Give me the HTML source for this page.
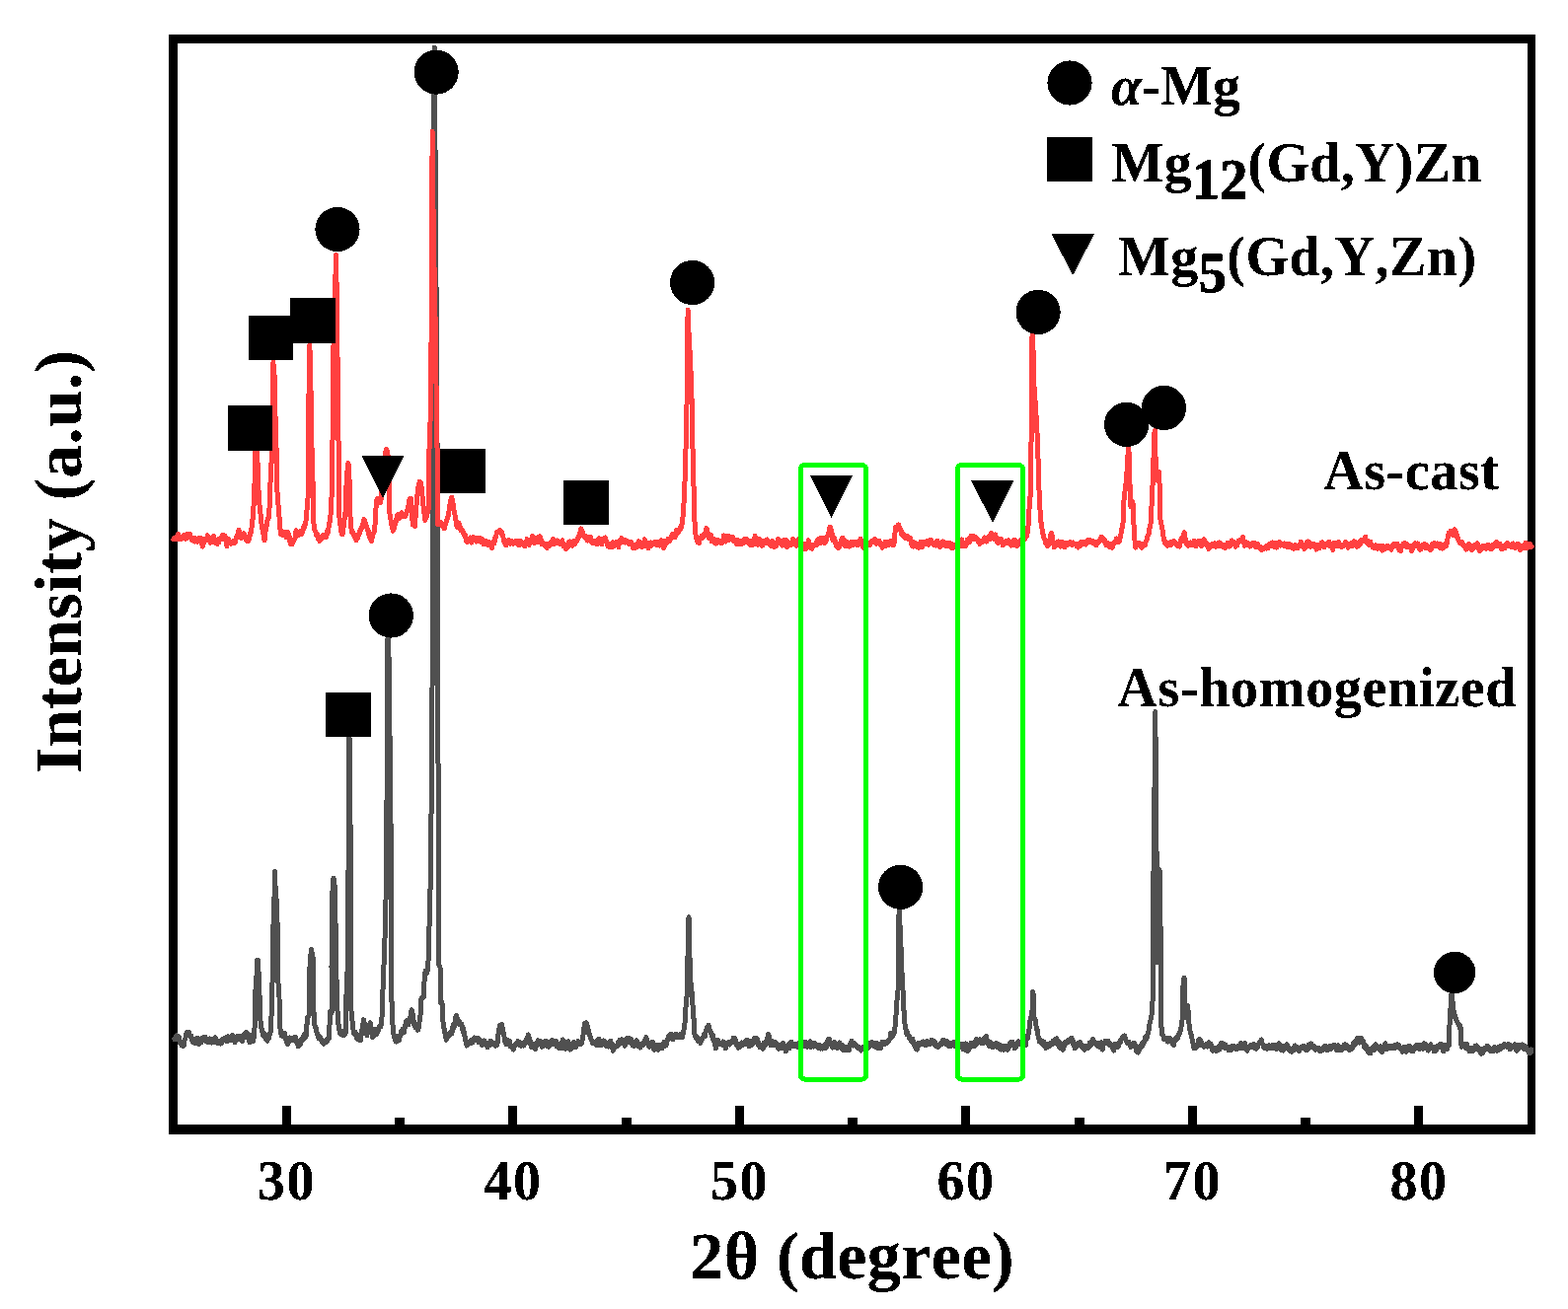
<!DOCTYPE html>
<html lang="en"><head><meta charset="utf-8"><title>XRD patterns</title>
<style>html,body{margin:0;padding:0;background:#fff}body{width:1589px;height:1327px;overflow:hidden}svg{display:block}text{font-family:"Liberation Serif","DejaVu Serif",serif;font-weight:bold;fill:#000;font-kerning:none;font-variant-ligatures:none}</style>
</head><body>
<svg width="1589" height="1327" viewBox="0 0 1589 1327" shape-rendering="crispEdges">
<rect width="1589" height="1327" fill="#fff"/>
<g fill="#000">
<rect x="171" y="35" width="1385" height="9"/>
<rect x="171" y="1140" width="1385" height="10"/>
<rect x="171" y="35" width="9" height="1115"/>
<rect x="1548" y="35" width="8" height="1115"/>
<rect x="286" y="1121" width="9" height="20"/>
<rect x="515" y="1121" width="9" height="20"/>
<rect x="745" y="1121" width="9" height="20"/>
<rect x="974" y="1121" width="9" height="20"/>
<rect x="1204" y="1121" width="9" height="20"/>
<rect x="1433" y="1121" width="9" height="20"/>
<rect x="400" y="1133" width="10" height="8"/>
<rect x="630" y="1133" width="10" height="8"/>
<rect x="859" y="1133" width="10" height="8"/>
<rect x="1089" y="1133" width="10" height="8"/>
<rect x="1318" y="1133" width="10" height="8"/>
</g>
<path d="M176.6 1053.1 L177.1 1053.7 L177.7 1052.3 L178.2 1053.7 L178.7 1049.8 L179.2 1051.0 L179.8 1050.1 L180.3 1050.5 L180.8 1052.3 L181.3 1051.2 L181.8 1054.9 L182.3 1057.4 L182.8 1056.2 L183.3 1056.3 L183.8 1059.5 L184.4 1057.9 L184.9 1056.9 L185.4 1060.7 L185.9 1058.5 L186.5 1059.1 L187.0 1054.8 L187.5 1053.1 L187.9 1053.0 L188.4 1049.9 L188.9 1048.0 L189.4 1046.7 L189.8 1048.4 L190.3 1048.1 L190.8 1049.2 L191.2 1049.5 L191.7 1046.7 L192.2 1049.8 L192.7 1049.4 L193.1 1050.7 L193.6 1049.9 L194.1 1051.5 L194.5 1054.9 L195.0 1054.2 L195.5 1056.4 L196.0 1053.1 L196.4 1055.0 L196.9 1056.6 L197.4 1057.5 L197.8 1053.9 L198.3 1054.9 L198.8 1052.9 L199.3 1056.4 L199.8 1056.5 L200.3 1054.4 L200.7 1052.6 L201.2 1056.4 L201.7 1058.7 L202.2 1055.1 L202.6 1057.6 L203.1 1056.5 L203.5 1057.1 L204.0 1055.8 L204.5 1052.8 L204.9 1054.9 L205.4 1052.0 L205.9 1052.6 L206.3 1054.3 L206.8 1054.1 L207.3 1051.2 L207.8 1051.2 L208.2 1052.6 L208.7 1054.6 L209.2 1055.8 L209.6 1055.1 L210.1 1053.9 L210.6 1054.4 L211.1 1056.5 L211.5 1054.6 L212.1 1057.0 L212.6 1052.9 L213.1 1055.1 L213.6 1056.2 L214.1 1053.2 L214.6 1057.0 L215.1 1053.9 L215.7 1056.2 L216.2 1056.1 L216.7 1056.3 L217.2 1054.6 L217.7 1052.4 L218.2 1051.7 L218.8 1052.8 L219.3 1054.0 L219.8 1056.8 L220.3 1057.8 L220.9 1057.8 L221.4 1055.8 L221.9 1055.4 L222.4 1057.8 L222.9 1057.1 L223.3 1055.9 L223.8 1058.1 L224.3 1058.0 L224.8 1056.2 L225.2 1054.5 L225.7 1053.1 L226.2 1055.3 L226.7 1053.2 L227.3 1052.7 L227.8 1053.5 L228.3 1052.0 L228.8 1053.9 L229.4 1054.5 L229.9 1052.8 L230.4 1055.9 L230.9 1054.2 L231.4 1050.8 L231.8 1052.9 L232.3 1053.8 L232.8 1053.2 L233.2 1051.9 L233.7 1054.4 L234.2 1053.1 L234.7 1051.8 L235.1 1053.7 L235.6 1049.5 L236.1 1053.2 L236.6 1054.3 L237.0 1053.6 L237.5 1054.4 L238.0 1056.8 L238.4 1052.2 L238.9 1055.5 L239.4 1053.1 L239.9 1054.6 L240.3 1053.9 L240.8 1050.1 L241.3 1052.3 L241.7 1053.1 L242.2 1053.4 L242.7 1050.3 L243.2 1052.3 L243.6 1053.9 L244.1 1051.1 L244.6 1054.2 L245.0 1051.3 L245.5 1055.9 L246.0 1053.0 L246.6 1049.2 L247.1 1049.9 L247.6 1051.3 L248.1 1047.8 L248.7 1047.6 L249.2 1048.0 L249.7 1046.3 L250.2 1049.1 L250.7 1047.9 L251.2 1049.7 L251.7 1051.2 L252.1 1054.4 L252.6 1055.4 L253.1 1056.8 L253.7 1055.0 L254.2 1053.2 L254.7 1049.5 L255.2 1053.4 L255.7 1051.7 L256.2 1054.8 L256.7 1055.5 L257.2 1051.8 L257.6 1046.1 L258.1 1040.7 L258.5 1032.9 L258.9 1004.5 L259.5 996.1 L260.1 988.6 L260.5 973.1 L261.2 973.1 L261.6 978.5 L262.0 985.4 L262.4 991.8 L263.0 1008.3 L263.5 1028.2 L264.0 1034.7 L264.5 1040.2 L265.0 1042.5 L265.6 1044.5 L266.1 1047.8 L266.7 1050.2 L267.2 1047.1 L267.8 1049.8 L268.3 1049.1 L268.8 1049.7 L269.3 1053.1 L269.9 1053.2 L270.4 1052.4 L270.9 1055.3 L271.4 1051.0 L271.9 1051.3 L272.4 1052.6 L272.9 1048.1 L273.3 1047.7 L273.8 1047.7 L274.3 1044.7 L275.1 1028.2 L275.9 1004.5 L276.7 945.9 L277.1 934.2 L277.5 923.6 L277.9 914.3 L278.6 883.4 L279.0 898.5 L279.6 903.8 L280.1 912.7 L280.6 923.4 L281.1 938.0 L281.7 995.0 L282.2 998.5 L282.6 1003.9 L283.0 1010.8 L283.3 1040.2 L283.8 1042.3 L284.3 1044.5 L284.7 1047.2 L285.2 1050.0 L285.7 1050.2 L286.2 1048.4 L286.7 1048.0 L287.2 1049.8 L287.8 1047.3 L288.3 1047.5 L288.8 1049.4 L289.3 1050.8 L289.9 1054.4 L290.4 1056.3 L290.9 1055.9 L291.4 1058.4 L291.9 1057.5 L292.4 1054.9 L292.9 1055.8 L293.4 1054.3 L293.9 1052.0 L294.4 1054.7 L294.9 1052.1 L295.4 1052.4 L295.9 1052.9 L296.4 1055.0 L296.9 1054.9 L297.4 1054.9 L297.9 1053.5 L298.4 1051.3 L298.9 1051.6 L299.4 1051.5 L299.8 1055.3 L300.3 1055.9 L300.8 1055.9 L301.3 1058.1 L301.8 1058.1 L302.3 1060.8 L302.8 1055.3 L303.3 1059.2 L303.8 1056.6 L304.4 1059.0 L304.9 1054.6 L305.4 1056.2 L305.9 1055.1 L306.5 1053.2 L307.0 1051.3 L307.5 1053.4 L308.0 1052.4 L308.5 1048.7 L308.9 1050.7 L309.4 1052.1 L309.9 1048.0 L310.4 1050.2 L310.9 1039.9 L311.5 1032.9 L311.9 1031.1 L312.4 1030.3 L312.9 1030.0 L313.4 1028.2 L313.8 982.3 L314.4 977.0 L314.9 968.8 L315.4 962.5 L315.9 965.1 L316.5 967.9 L317.0 970.2 L317.5 972.8 L317.8 1021.9 L318.6 1037.7 L319.1 1039.8 L319.5 1041.1 L320.0 1042.6 L320.5 1042.7 L321.0 1046.5 L321.5 1047.4 L321.9 1048.8 L322.4 1049.4 L322.9 1052.5 L323.4 1052.3 L323.9 1052.3 L324.4 1052.8 L324.9 1051.8 L325.4 1054.5 L325.9 1053.8 L326.4 1055.2 L326.9 1057.2 L327.4 1057.2 L327.9 1058.2 L328.4 1057.9 L328.9 1055.0 L329.4 1055.8 L329.9 1056.5 L330.5 1055.5 L331.0 1056.4 L331.5 1054.5 L332.0 1052.7 L332.6 1053.5 L333.1 1053.3 L333.6 1050.1 L334.4 1028.2 L334.9 1025.0 L335.5 1028.0 L336.0 1026.6 L336.0 980.7 L336.8 906.4 L337.2 899.7 L337.6 894.7 L338.0 890.2 L338.6 893.0 L339.2 898.5 L339.7 922.8 L340.3 949.1 L340.7 975.2 L341.2 1002.9 L341.8 1017.1 L342.3 1036.1 L342.8 1037.7 L343.3 1039.4 L343.7 1043.3 L344.2 1044.6 L344.7 1048.3 L345.2 1045.0 L345.7 1047.6 L346.2 1046.7 L346.7 1047.5 L347.2 1047.9 L347.7 1049.8 L348.2 1047.8 L348.7 1045.6 L349.2 1049.4 L349.6 1048.4 L350.1 1047.5 L350.6 1042.8 L351.1 1001.3 L351.6 991.6 L352.2 982.3 L352.7 927.6 L353.1 870.0 L353.3 749.0 L353.8 752.7 L354.2 749.0 L354.8 810.9 L355.3 870.0 L355.3 1017.9 L355.8 1022.5 L356.2 1026.8 L356.6 1028.2 L357.4 1041.0 L357.9 1043.4 L358.5 1047.0 L359.0 1048.3 L359.5 1046.3 L360.0 1046.3 L360.6 1047.2 L361.1 1051.5 L361.6 1049.8 L362.1 1053.4 L362.7 1050.0 L363.2 1049.8 L363.7 1050.0 L364.3 1053.1 L364.8 1053.0 L365.3 1055.0 L365.8 1050.8 L366.4 1047.5 L366.9 1044.6 L367.4 1039.5 L367.9 1037.5 L368.5 1033.7 L368.9 1035.9 L369.4 1039.0 L369.9 1041.1 L370.4 1043.3 L370.8 1042.8 L371.4 1044.9 L371.9 1049.6 L372.4 1046.5 L373.0 1046.3 L373.5 1044.1 L374.0 1040.0 L374.6 1038.2 L375.1 1036.9 L375.6 1039.3 L376.1 1042.1 L376.7 1046.9 L377.2 1048.3 L377.7 1051.6 L378.2 1050.6 L378.8 1049.8 L379.3 1047.3 L379.8 1044.2 L380.3 1043.5 L380.9 1044.6 L381.4 1048.6 L381.9 1047.3 L382.4 1046.3 L382.9 1045.5 L383.3 1044.7 L383.8 1042.8 L384.3 1041.0 L384.8 1041.6 L385.2 1040.4 L385.7 1041.1 L386.2 1038.6 L386.7 1036.1 L387.5 1021.9 L388.2 996.6 L388.8 983.3 L389.3 971.2 L389.8 957.0 L390.6 936.4 L391.2 902.1 L391.7 870.0 L392.3 759.7 L392.9 648.0 L393.4 650.6 L393.8 648.0 L394.3 691.5 L394.9 736.3 L395.4 780.6 L395.9 826.3 L396.5 870.0 L396.5 1012.4 L396.9 1015.4 L397.4 1017.1 L397.7 1034.5 L398.3 1043.4 L398.8 1048.2 L399.4 1051.3 L399.9 1051.6 L400.4 1054.0 L400.9 1053.3 L401.4 1056.1 L401.9 1055.7 L402.4 1051.8 L402.9 1050.2 L403.4 1051.1 L403.9 1053.6 L404.4 1054.6 L404.9 1049.7 L405.4 1050.3 L405.9 1048.8 L406.4 1045.5 L407.0 1047.8 L407.5 1044.1 L408.0 1044.5 L408.5 1042.9 L409.1 1045.1 L409.6 1046.4 L410.1 1042.3 L410.6 1041.5 L411.0 1037.9 L411.5 1035.5 L412.0 1035.3 L412.5 1034.2 L412.9 1034.9 L413.4 1034.7 L413.9 1038.6 L414.4 1036.1 L414.9 1034.1 L415.4 1033.1 L416.0 1030.3 L416.5 1027.5 L417.0 1023.8 L417.6 1026.0 L418.1 1027.6 L418.6 1031.1 L419.1 1034.5 L419.6 1036.3 L420.0 1040.1 L420.5 1037.5 L421.0 1041.9 L421.5 1037.7 L421.9 1039.6 L422.4 1040.9 L422.9 1041.9 L423.4 1044.2 L423.8 1043.7 L424.3 1040.8 L424.8 1037.1 L425.3 1034.9 L425.7 1030.2 L426.2 1028.2 L427.0 1012.4 L427.5 1012.2 L428.0 1011.5 L428.4 1011.4 L428.9 1010.2 L429.4 1010.8 L430.2 990.2 L430.6 986.7 L431.1 984.4 L431.6 984.5 L432.1 984.8 L432.5 986.3 L433.1 984.1 L433.6 979.2 L434.1 972.8 L434.9 942.8 L435.7 915.9 L436.2 893.8 L436.7 870.0 L437.1 812.8 L437.6 757.1 L438.0 700.0 L438.6 580.0 L439.4 300.0 L439.9 110.0 L440.3 48.0 L440.7 100.0 L441.3 200.0 L441.8 267.9 L442.4 334.6 L442.9 400.0 L443.3 580.0 L443.7 700.0 L444.4 870.0 L444.4 977.6 L444.9 978.6 L445.5 979.9 L446.0 980.7 L446.8 1017.1 L447.3 1017.8 L447.8 1016.1 L448.4 1020.3 L449.2 1040.9 L449.7 1041.2 L450.2 1043.3 L450.7 1046.4 L451.3 1048.5 L451.8 1051.4 L452.3 1054.2 L452.8 1050.9 L453.4 1051.0 L453.9 1051.5 L454.4 1051.0 L455.0 1050.5 L455.5 1047.5 L456.0 1046.9 L456.5 1046.0 L457.1 1048.2 L457.6 1048.2 L458.1 1045.9 L458.6 1041.3 L459.2 1043.3 L459.7 1037.7 L460.2 1040.9 L460.8 1037.5 L461.3 1036.5 L461.8 1031.4 L462.6 1029.5 L463.1 1031.8 L463.5 1032.8 L464.0 1033.8 L464.5 1035.0 L465.0 1037.7 L465.5 1038.2 L466.0 1036.4 L466.6 1037.4 L467.1 1038.7 L467.6 1037.9 L468.1 1039.3 L468.7 1042.2 L469.2 1045.8 L469.7 1042.7 L470.2 1046.6 L470.7 1048.5 L471.1 1051.1 L471.6 1053.8 L472.1 1056.6 L472.6 1057.1 L473.0 1060.1 L473.5 1058.7 L474.0 1059.4 L474.5 1056.7 L475.0 1058.3 L475.5 1056.1 L476.0 1056.6 L476.6 1057.2 L477.1 1055.6 L477.6 1054.6 L478.2 1056.6 L478.7 1057.0 L479.2 1055.0 L479.6 1054.1 L480.2 1053.0 L480.7 1051.9 L481.2 1053.6 L481.7 1054.0 L482.2 1054.9 L482.7 1054.9 L483.3 1054.0 L483.8 1055.1 L484.3 1052.5 L484.8 1053.8 L485.3 1057.0 L485.8 1055.0 L486.3 1054.4 L486.8 1055.4 L487.3 1055.4 L487.8 1057.9 L488.3 1059.5 L488.8 1059.1 L489.3 1057.0 L489.8 1057.0 L490.3 1057.5 L490.8 1054.9 L491.4 1057.6 L491.9 1058.9 L492.4 1057.8 L492.9 1058.3 L493.4 1059.3 L493.9 1061.9 L494.4 1057.6 L494.9 1059.4 L495.4 1057.3 L495.9 1059.7 L496.4 1059.9 L496.9 1057.5 L497.4 1055.1 L497.9 1056.9 L498.4 1057.0 L498.9 1058.2 L499.4 1057.6 L499.9 1058.3 L500.4 1057.5 L500.9 1059.2 L501.4 1057.8 L501.8 1057.5 L502.3 1060.3 L502.8 1057.4 L503.2 1059.8 L503.7 1058.1 L504.2 1056.9 L504.7 1053.1 L505.1 1047.2 L505.6 1045.0 L506.1 1041.3 L506.6 1039.8 L507.0 1039.3 L507.5 1040.5 L508.0 1040.5 L508.4 1038.2 L508.9 1041.3 L509.4 1042.6 L509.9 1045.1 L510.3 1048.2 L510.8 1049.9 L511.3 1052.3 L511.7 1056.0 L512.2 1055.0 L512.7 1057.9 L513.2 1058.9 L513.6 1056.2 L514.1 1054.1 L514.6 1054.1 L515.0 1056.3 L515.5 1055.3 L516.0 1055.4 L516.5 1055.9 L516.9 1059.7 L517.4 1060.9 L517.9 1061.3 L518.4 1060.1 L518.9 1061.8 L519.4 1062.3 L519.9 1060.8 L520.4 1064.1 L521.0 1060.5 L521.5 1060.5 L522.0 1060.0 L522.5 1058.9 L523.1 1057.6 L523.5 1057.5 L524.0 1056.8 L524.5 1057.8 L525.0 1055.5 L525.4 1058.1 L525.9 1056.0 L526.4 1056.4 L526.8 1059.7 L527.3 1058.2 L527.8 1060.2 L528.3 1059.5 L528.8 1059.1 L529.4 1059.9 L529.9 1059.0 L530.4 1057.7 L530.9 1060.1 L531.5 1057.4 L532.0 1056.5 L532.5 1057.7 L533.0 1055.7 L533.5 1054.7 L533.9 1053.2 L534.4 1052.2 L534.9 1050.7 L535.3 1048.9 L535.8 1050.0 L536.3 1053.1 L536.8 1054.9 L537.2 1055.0 L537.7 1058.6 L538.2 1057.7 L538.7 1061.9 L539.2 1061.0 L539.7 1057.9 L540.2 1061.4 L540.7 1061.0 L541.3 1058.7 L541.8 1059.0 L542.3 1063.4 L542.8 1062.3 L543.3 1060.7 L543.8 1058.5 L544.4 1057.2 L544.9 1055.7 L545.4 1054.8 L545.9 1057.6 L546.5 1056.0 L547.0 1055.5 L547.5 1059.3 L548.0 1059.3 L548.6 1056.0 L549.0 1058.0 L549.5 1061.3 L550.0 1060.1 L550.4 1060.9 L550.9 1060.4 L551.4 1057.3 L551.9 1059.7 L552.3 1058.4 L552.8 1057.7 L553.3 1055.1 L553.8 1057.7 L554.2 1057.5 L554.7 1058.9 L555.2 1061.1 L555.7 1058.9 L556.2 1061.3 L556.7 1060.2 L557.2 1058.0 L557.7 1056.8 L558.3 1055.4 L558.8 1056.4 L559.3 1054.6 L559.8 1056.5 L560.3 1055.2 L560.8 1058.6 L561.3 1056.0 L561.9 1055.7 L562.4 1055.6 L562.9 1058.1 L563.4 1055.6 L563.9 1060.5 L564.4 1059.8 L564.9 1060.5 L565.5 1061.2 L566.0 1062.2 L566.5 1058.6 L567.0 1060.3 L567.4 1060.4 L567.9 1062.7 L568.4 1057.8 L568.9 1058.6 L569.3 1056.9 L569.9 1055.8 L570.4 1053.9 L570.9 1058.1 L571.4 1060.0 L571.9 1062.6 L572.5 1060.3 L573.0 1063.4 L573.5 1061.7 L574.0 1060.8 L574.6 1060.2 L575.1 1060.7 L575.6 1055.7 L576.1 1059.5 L576.6 1060.4 L577.1 1060.5 L577.7 1064.0 L578.2 1061.8 L578.7 1062.2 L579.2 1062.4 L579.7 1058.7 L580.2 1061.1 L580.7 1057.0 L581.3 1056.4 L581.8 1056.9 L582.3 1058.8 L582.8 1061.4 L583.3 1060.4 L583.8 1061.5 L584.3 1058.4 L584.9 1057.6 L585.4 1057.5 L585.9 1055.6 L586.4 1056.4 L586.9 1058.3 L587.5 1057.3 L588.0 1058.6 L588.5 1057.2 L589.0 1057.7 L589.6 1056.9 L590.1 1054.1 L590.6 1052.4 L591.0 1049.0 L591.5 1045.5 L592.0 1041.3 L592.5 1037.3 L592.9 1039.2 L593.4 1040.1 L593.9 1038.8 L594.3 1036.8 L594.8 1039.4 L595.3 1040.5 L595.8 1041.7 L596.2 1043.9 L596.7 1047.3 L597.2 1048.2 L597.6 1049.9 L598.1 1051.1 L598.6 1052.6 L599.1 1054.0 L599.5 1054.6 L600.0 1055.8 L600.5 1057.9 L601.0 1056.4 L601.5 1056.9 L602.0 1056.7 L602.5 1057.6 L603.1 1056.3 L603.6 1059.1 L604.1 1059.0 L604.6 1059.4 L605.1 1055.0 L605.6 1053.9 L606.1 1057.6 L606.7 1053.2 L607.2 1057.7 L607.7 1059.5 L608.2 1059.0 L608.7 1057.7 L609.2 1059.5 L609.7 1059.2 L610.3 1057.7 L610.8 1055.6 L611.3 1055.0 L611.8 1058.8 L612.3 1055.5 L612.8 1055.7 L613.3 1056.9 L613.8 1058.5 L614.3 1060.4 L614.8 1057.2 L615.3 1060.1 L615.8 1058.1 L616.3 1058.2 L616.8 1061.1 L617.3 1059.9 L617.8 1060.8 L618.4 1057.9 L618.9 1055.1 L619.4 1059.6 L619.9 1057.5 L620.4 1060.2 L620.9 1063.5 L621.4 1065.2 L621.9 1062.5 L622.4 1061.8 L622.9 1060.0 L623.4 1062.2 L623.9 1060.6 L624.4 1060.6 L624.9 1060.3 L625.4 1059.4 L625.9 1060.5 L626.4 1056.3 L626.9 1058.8 L627.4 1058.0 L627.9 1054.4 L628.5 1058.1 L629.0 1055.0 L629.5 1053.9 L630.0 1056.4 L630.5 1053.8 L631.0 1056.3 L631.5 1055.3 L632.1 1056.1 L632.6 1057.8 L633.1 1060.1 L633.6 1058.6 L634.1 1057.9 L634.6 1056.1 L635.1 1052.7 L635.6 1054.6 L636.1 1054.4 L636.6 1052.9 L637.1 1055.4 L637.6 1052.7 L638.1 1056.2 L638.6 1055.6 L639.1 1053.2 L639.6 1054.0 L640.1 1054.1 L640.6 1058.6 L641.1 1059.9 L641.5 1057.3 L642.0 1058.9 L642.5 1060.9 L643.0 1058.9 L643.5 1057.0 L644.0 1058.9 L644.5 1056.9 L645.1 1054.9 L645.6 1056.1 L646.1 1057.2 L646.6 1058.2 L647.2 1060.9 L647.7 1059.3 L648.2 1060.2 L648.7 1062.1 L649.2 1059.1 L649.7 1059.4 L650.3 1059.1 L650.8 1058.2 L651.3 1058.0 L651.8 1059.4 L652.3 1058.6 L652.8 1056.3 L653.3 1056.0 L653.9 1053.4 L654.4 1052.4 L654.9 1051.6 L655.4 1055.8 L655.9 1055.9 L656.4 1058.0 L656.9 1057.4 L657.5 1060.0 L658.0 1061.3 L658.5 1060.4 L659.0 1058.9 L659.5 1058.6 L660.0 1056.7 L660.5 1056.6 L661.0 1058.0 L661.5 1056.6 L662.0 1059.8 L662.5 1061.2 L663.0 1064.3 L663.5 1064.0 L664.0 1061.1 L664.5 1059.4 L665.0 1060.0 L665.5 1061.1 L666.0 1062.2 L666.5 1063.7 L667.0 1064.2 L667.5 1059.2 L667.9 1061.3 L668.4 1060.7 L669.0 1059.1 L669.5 1060.7 L670.0 1060.8 L670.5 1060.8 L671.0 1062.7 L671.5 1060.7 L672.0 1058.3 L672.6 1057.5 L673.1 1056.1 L673.6 1056.4 L674.1 1058.1 L674.6 1060.0 L675.1 1059.3 L675.6 1054.9 L676.1 1055.5 L676.6 1053.3 L677.1 1054.0 L677.6 1050.1 L678.1 1050.9 L678.6 1050.9 L679.2 1049.8 L679.7 1048.5 L680.2 1048.5 L680.7 1048.7 L681.2 1052.3 L681.8 1053.9 L682.3 1053.1 L682.8 1050.6 L683.4 1051.8 L683.9 1051.6 L684.4 1051.0 L684.9 1048.3 L685.4 1049.6 L685.9 1050.8 L686.4 1051.5 L686.9 1050.7 L687.5 1051.8 L688.0 1051.7 L688.5 1051.6 L689.0 1049.2 L689.5 1048.7 L690.0 1048.2 L690.5 1050.2 L691.0 1048.5 L691.5 1051.8 L692.1 1048.1 L692.6 1047.1 L693.2 1042.5 L693.7 1041.0 L694.2 1034.2 L694.6 1030.2 L695.3 1015.3 L695.8 1011.1 L696.2 1009.2 L696.7 1009.8 L696.7 981.4 L697.2 961.0 L697.8 940.7 L698.0 929.6 L698.2 940.7 L698.7 959.9 L699.3 981.4 L699.7 989.3 L700.2 1000.3 L700.7 1003.3 L701.3 1007.1 L701.8 1016.5 L702.4 1024.7 L702.8 1030.3 L703.3 1035.6 L704.0 1048.6 L704.5 1049.9 L705.1 1051.8 L705.6 1050.7 L706.1 1052.5 L706.7 1051.4 L707.2 1051.7 L707.7 1055.9 L708.2 1055.3 L708.8 1053.7 L709.3 1055.1 L709.8 1057.4 L710.4 1054.3 L710.9 1055.5 L711.4 1052.5 L711.9 1053.3 L712.5 1051.0 L713.0 1050.8 L713.5 1051.1 L714.0 1047.7 L714.6 1050.2 L715.1 1046.4 L715.5 1045.0 L716.0 1043.1 L716.5 1041.6 L717.0 1040.6 L717.5 1040.9 L718.0 1039.4 L718.5 1042.5 L718.9 1043.0 L719.4 1045.4 L719.9 1046.7 L720.4 1046.1 L720.9 1048.5 L721.4 1050.2 L721.8 1048.8 L722.3 1048.9 L722.8 1054.3 L723.3 1053.0 L723.8 1056.0 L724.3 1058.4 L724.7 1058.5 L725.3 1062.7 L725.8 1062.3 L726.3 1059.2 L726.9 1057.6 L727.4 1054.5 L727.9 1057.4 L728.4 1058.9 L729.0 1056.9 L729.5 1057.4 L730.0 1057.3 L730.5 1057.6 L731.0 1057.3 L731.5 1059.1 L732.0 1059.2 L732.4 1059.1 L732.9 1055.9 L733.4 1059.4 L733.9 1059.8 L734.4 1060.3 L734.9 1058.4 L735.4 1062.8 L735.9 1057.7 L736.4 1057.2 L736.9 1058.9 L737.4 1059.1 L737.9 1058.1 L738.4 1056.6 L738.9 1058.0 L739.4 1059.0 L739.8 1056.4 L740.3 1057.4 L740.9 1057.0 L741.4 1056.3 L742.0 1055.4 L742.5 1056.6 L743.1 1052.5 L743.6 1053.8 L744.1 1053.5 L744.6 1052.6 L745.1 1055.7 L745.6 1054.5 L746.1 1059.3 L746.6 1058.8 L747.1 1058.5 L747.6 1058.6 L748.1 1062.2 L748.6 1058.9 L749.1 1061.9 L749.6 1061.4 L750.1 1061.4 L750.6 1057.9 L751.1 1058.8 L751.6 1056.8 L752.0 1060.0 L752.5 1058.5 L753.0 1059.2 L753.5 1058.2 L754.0 1057.4 L754.5 1056.7 L755.0 1058.3 L755.5 1056.2 L756.0 1056.4 L756.5 1054.1 L757.0 1054.7 L757.5 1054.2 L758.0 1059.2 L758.5 1058.1 L759.1 1060.9 L759.6 1057.5 L760.1 1055.4 L760.6 1059.6 L761.1 1057.8 L761.7 1059.4 L762.2 1057.9 L762.7 1057.0 L763.2 1058.0 L763.7 1054.3 L764.2 1052.8 L764.8 1055.8 L765.3 1053.7 L765.8 1053.1 L766.3 1055.9 L766.8 1052.6 L767.3 1056.6 L767.8 1053.5 L768.4 1059.1 L768.9 1060.0 L769.4 1059.9 L769.9 1061.8 L770.4 1059.6 L770.9 1061.4 L771.4 1061.3 L772.0 1060.6 L772.5 1060.8 L773.0 1063.2 L773.5 1062.6 L774.0 1061.4 L774.5 1056.9 L775.0 1057.0 L775.6 1059.3 L776.1 1059.2 L776.6 1055.5 L777.0 1055.2 L777.5 1052.5 L778.0 1052.2 L778.4 1048.4 L778.9 1048.5 L779.4 1051.3 L779.9 1053.2 L780.3 1055.7 L780.8 1059.7 L781.3 1056.7 L781.8 1059.7 L782.3 1057.7 L782.8 1055.6 L783.3 1057.2 L783.8 1059.9 L784.3 1057.4 L784.8 1059.3 L785.3 1057.0 L785.8 1056.8 L786.3 1059.0 L786.8 1059.1 L787.3 1058.2 L787.8 1059.0 L788.3 1060.4 L788.8 1063.3 L789.3 1059.3 L789.8 1063.0 L790.3 1062.2 L790.8 1061.4 L791.3 1062.5 L791.8 1062.2 L792.3 1062.0 L792.8 1060.5 L793.3 1058.4 L793.8 1057.4 L794.3 1060.1 L794.8 1060.3 L795.3 1063.3 L795.8 1061.9 L796.3 1066.0 L796.7 1062.8 L797.2 1063.8 L797.7 1062.8 L798.2 1060.7 L798.7 1062.3 L799.2 1058.8 L799.8 1062.7 L800.3 1060.1 L800.8 1060.9 L801.3 1057.4 L801.8 1056.2 L802.3 1059.7 L802.9 1058.3 L803.4 1058.0 L803.9 1059.4 L804.4 1060.6 L804.9 1060.6 L805.4 1058.2 L805.9 1060.5 L806.4 1060.3 L806.9 1060.6 L807.4 1059.0 L807.9 1061.1 L808.4 1060.9 L808.9 1060.5 L809.4 1057.6 L809.9 1059.9 L810.4 1059.1 L810.9 1061.3 L811.4 1058.4 L812.0 1060.6 L812.4 1060.1 L812.9 1059.5 L813.4 1057.2 L813.9 1057.9 L814.4 1058.5 L814.9 1059.1 L815.4 1056.8 L815.9 1060.7 L816.4 1057.1 L816.9 1056.7 L817.4 1056.8 L817.9 1058.1 L818.4 1061.3 L818.9 1058.5 L819.4 1058.1 L819.9 1060.1 L820.4 1057.2 L820.9 1055.9 L821.4 1061.5 L821.9 1058.4 L822.4 1058.2 L822.9 1058.1 L823.4 1059.4 L823.9 1057.3 L824.4 1061.1 L824.9 1060.6 L825.4 1057.5 L825.9 1057.6 L826.4 1059.1 L826.9 1059.5 L827.4 1059.2 L827.8 1059.2 L828.3 1061.1 L828.8 1059.8 L829.3 1061.7 L829.8 1062.7 L830.3 1059.4 L830.8 1060.7 L831.3 1062.0 L831.9 1063.0 L832.4 1060.5 L832.9 1063.0 L833.4 1063.1 L833.9 1060.4 L834.4 1060.3 L834.9 1062.1 L835.5 1060.6 L836.0 1060.0 L836.5 1058.7 L837.0 1062.1 L837.6 1060.9 L838.1 1058.0 L838.6 1055.8 L839.2 1054.3 L839.7 1053.9 L840.2 1053.2 L840.7 1056.1 L841.2 1055.7 L841.6 1056.7 L842.1 1057.9 L842.6 1059.9 L843.1 1058.2 L843.6 1062.1 L844.0 1059.0 L844.6 1061.7 L845.1 1060.1 L845.6 1056.1 L846.1 1058.2 L846.6 1060.5 L847.1 1060.7 L847.7 1062.1 L848.2 1060.2 L848.7 1061.8 L849.2 1062.1 L849.7 1061.2 L850.2 1057.8 L850.7 1057.0 L851.1 1059.2 L851.6 1059.2 L852.1 1061.1 L852.5 1061.0 L853.0 1062.9 L853.5 1059.1 L854.0 1063.8 L854.4 1064.3 L854.9 1061.1 L855.4 1063.7 L855.8 1062.0 L856.3 1063.6 L856.8 1061.8 L857.3 1062.1 L857.7 1063.3 L858.2 1064.9 L858.7 1063.5 L859.2 1061.8 L859.6 1062.8 L860.1 1062.3 L860.6 1064.4 L861.0 1059.9 L861.6 1058.8 L862.1 1057.3 L862.6 1057.2 L863.1 1055.4 L863.7 1058.0 L864.2 1060.1 L864.7 1058.4 L865.2 1057.1 L865.8 1057.7 L866.3 1058.1 L866.8 1059.3 L867.3 1058.8 L867.9 1059.8 L868.4 1060.8 L868.9 1061.9 L869.4 1062.8 L870.0 1062.6 L870.5 1061.7 L871.0 1062.8 L871.5 1062.2 L872.0 1064.1 L872.5 1065.0 L873.0 1063.5 L873.5 1062.7 L874.0 1062.6 L874.5 1061.2 L875.0 1063.9 L875.5 1063.4 L876.0 1064.1 L876.5 1063.9 L877.0 1062.8 L877.5 1061.7 L878.0 1060.9 L878.5 1061.1 L879.0 1061.1 L879.5 1062.3 L880.0 1061.2 L880.5 1061.1 L881.1 1057.8 L881.6 1058.3 L882.1 1060.1 L882.6 1057.0 L883.1 1058.0 L883.6 1057.4 L884.1 1056.7 L884.6 1059.9 L885.1 1057.2 L885.6 1060.9 L886.1 1060.1 L886.6 1058.0 L887.1 1058.2 L887.6 1061.6 L888.2 1059.3 L888.7 1057.3 L889.2 1058.3 L889.7 1060.1 L890.2 1062.9 L890.7 1061.8 L891.2 1062.2 L891.8 1061.6 L892.3 1062.9 L892.9 1060.2 L893.4 1057.4 L893.9 1056.4 L894.5 1057.0 L895.0 1056.9 L895.6 1058.0 L896.1 1056.1 L896.6 1057.3 L897.1 1058.2 L897.6 1058.0 L898.1 1056.6 L898.6 1057.4 L899.1 1057.0 L899.6 1056.5 L900.0 1054.7 L900.5 1055.5 L901.0 1054.1 L901.5 1053.9 L902.1 1052.1 L902.6 1047.4 L903.2 1051.5 L903.7 1048.7 L904.2 1050.0 L904.7 1050.4 L905.2 1048.7 L905.7 1047.2 L906.2 1046.9 L906.7 1043.8 L907.2 1039.6 L907.8 1034.2 L908.2 1025.3 L908.7 1016.6 L909.2 1012.8 L909.6 1008.5 L910.1 1003.1 L910.1 967.8 L910.5 947.9 L911.0 927.1 L911.1 923.5 L911.3 923.5 L911.3 927.1 L911.8 935.5 L912.4 943.4 L912.8 955.1 L913.3 967.8 L913.8 979.8 L914.3 994.9 L914.8 1001.8 L915.4 1008.5 L915.9 1021.7 L916.4 1034.2 L916.9 1037.2 L917.4 1041.0 L917.8 1042.7 L918.3 1044.6 L918.7 1048.4 L919.3 1045.6 L919.8 1048.2 L920.3 1049.7 L920.8 1049.3 L921.3 1050.3 L921.9 1053.1 L922.4 1052.2 L922.9 1054.1 L923.4 1054.9 L923.9 1056.3 L924.4 1055.8 L924.9 1053.2 L925.4 1056.8 L925.9 1057.4 L926.4 1057.2 L926.9 1060.7 L927.5 1061.7 L928.0 1063.0 L928.5 1060.5 L929.0 1062.2 L929.5 1064.0 L930.0 1059.8 L930.5 1058.2 L931.0 1057.2 L931.5 1058.8 L932.0 1057.9 L932.5 1059.2 L933.0 1058.1 L933.5 1056.9 L933.9 1058.7 L934.4 1056.5 L934.9 1056.4 L935.4 1056.1 L935.9 1057.6 L936.4 1056.7 L936.9 1056.9 L937.4 1058.0 L937.8 1057.2 L938.3 1059.8 L938.8 1058.6 L939.3 1057.7 L939.8 1055.7 L940.3 1056.5 L940.8 1056.5 L941.2 1057.3 L941.7 1057.4 L942.2 1056.1 L942.7 1058.4 L943.2 1058.0 L943.7 1055.3 L944.2 1054.3 L944.7 1055.3 L945.2 1057.3 L945.7 1055.0 L946.1 1056.2 L946.6 1058.0 L947.1 1055.8 L947.6 1059.7 L948.1 1057.1 L948.6 1060.7 L949.1 1060.9 L949.6 1060.4 L950.0 1059.4 L950.5 1061.8 L951.0 1060.1 L951.5 1059.8 L952.0 1059.8 L952.5 1059.8 L953.0 1058.3 L953.4 1057.6 L953.9 1058.2 L954.4 1058.8 L954.9 1057.0 L955.4 1056.0 L955.9 1054.0 L956.3 1054.0 L956.8 1056.0 L957.3 1056.0 L957.8 1055.1 L958.3 1058.2 L958.8 1057.1 L959.2 1055.0 L959.7 1057.1 L960.2 1059.4 L960.7 1058.2 L961.2 1058.8 L961.7 1060.7 L962.2 1057.7 L962.7 1058.8 L963.2 1060.9 L963.7 1059.7 L964.2 1059.8 L964.7 1057.6 L965.3 1057.4 L965.7 1058.2 L966.2 1058.1 L966.7 1056.6 L967.2 1058.0 L967.7 1058.2 L968.1 1060.9 L968.6 1059.9 L969.1 1059.9 L969.6 1058.9 L970.1 1059.3 L970.5 1061.2 L971.0 1062.0 L971.5 1059.3 L972.1 1059.3 L972.6 1059.7 L973.1 1060.8 L973.6 1061.4 L974.1 1059.9 L974.6 1060.1 L975.1 1058.0 L975.6 1059.3 L976.1 1063.9 L976.6 1063.6 L977.1 1064.0 L977.6 1061.2 L978.1 1061.6 L978.6 1058.0 L979.0 1059.6 L979.5 1060.1 L980.0 1060.7 L980.5 1065.7 L981.0 1064.3 L981.5 1063.2 L982.1 1063.5 L982.6 1062.2 L983.1 1059.0 L983.6 1060.6 L984.1 1057.5 L984.6 1059.5 L985.1 1058.2 L985.7 1060.3 L986.1 1059.7 L986.6 1057.9 L987.1 1056.8 L987.6 1060.3 L988.0 1059.8 L988.5 1056.9 L989.0 1058.8 L989.4 1053.4 L990.0 1058.4 L990.5 1055.6 L991.0 1056.2 L991.5 1057.0 L992.0 1054.7 L992.5 1056.6 L993.0 1053.7 L993.6 1054.3 L994.1 1055.9 L994.6 1054.1 L995.1 1057.5 L995.6 1053.8 L996.0 1056.6 L996.5 1055.5 L997.0 1057.3 L997.5 1055.6 L997.9 1053.4 L998.4 1052.1 L998.9 1051.2 L999.4 1050.8 L999.8 1053.9 L1000.3 1054.0 L1000.8 1056.0 L1001.2 1056.6 L1001.7 1058.4 L1002.2 1058.9 L1002.7 1060.7 L1003.2 1057.7 L1003.7 1056.8 L1004.2 1057.7 L1004.7 1061.2 L1005.2 1059.9 L1005.7 1060.1 L1006.3 1060.6 L1006.8 1061.7 L1007.3 1060.9 L1007.8 1058.3 L1008.3 1059.3 L1008.8 1057.7 L1009.3 1057.4 L1009.9 1058.0 L1010.4 1061.7 L1010.9 1060.2 L1011.4 1060.4 L1011.9 1062.2 L1012.4 1058.7 L1013.0 1060.1 L1013.5 1062.5 L1014.0 1060.1 L1014.5 1064.1 L1014.9 1061.7 L1015.4 1062.4 L1015.9 1063.9 L1016.3 1062.4 L1016.8 1064.3 L1017.3 1060.7 L1017.8 1062.1 L1018.3 1062.1 L1018.8 1060.9 L1019.3 1060.9 L1019.8 1063.0 L1020.3 1062.7 L1020.8 1064.2 L1021.4 1061.5 L1021.9 1063.2 L1022.4 1061.0 L1022.9 1059.1 L1023.4 1060.8 L1023.9 1056.8 L1024.5 1058.0 L1025.0 1056.4 L1025.5 1059.2 L1026.0 1056.1 L1026.5 1058.8 L1027.0 1059.9 L1027.5 1059.8 L1028.1 1062.5 L1028.6 1061.0 L1029.1 1061.7 L1029.6 1061.0 L1030.1 1059.5 L1030.7 1058.8 L1031.2 1057.0 L1031.6 1057.2 L1032.1 1055.7 L1032.6 1055.9 L1033.1 1058.5 L1033.6 1056.1 L1034.1 1057.9 L1034.6 1056.1 L1035.0 1058.5 L1035.5 1058.1 L1036.0 1058.7 L1036.5 1057.9 L1037.0 1057.0 L1037.5 1060.1 L1037.9 1058.2 L1038.4 1057.9 L1038.9 1057.5 L1039.4 1059.7 L1039.8 1055.5 L1040.3 1053.7 L1040.8 1053.4 L1041.3 1053.0 L1041.8 1049.5 L1042.3 1047.4 L1042.9 1043.7 L1043.4 1040.7 L1044.0 1034.2 L1044.5 1032.2 L1045.0 1030.2 L1045.5 1026.7 L1046.0 1024.7 L1046.0 1008.5 L1046.5 1005.5 L1047.2 1008.5 L1047.2 1028.8 L1047.7 1030.4 L1048.2 1032.5 L1048.7 1034.0 L1049.3 1034.2 L1049.7 1038.6 L1050.2 1041.0 L1050.7 1043.5 L1051.3 1043.7 L1051.8 1049.1 L1052.4 1051.4 L1052.9 1053.7 L1053.5 1056.1 L1054.0 1054.1 L1054.5 1055.3 L1055.1 1057.4 L1055.6 1055.3 L1056.1 1055.4 L1056.6 1059.0 L1057.1 1058.6 L1057.6 1058.8 L1058.0 1056.4 L1058.5 1057.2 L1059.0 1059.1 L1059.5 1060.6 L1060.0 1062.4 L1060.5 1060.4 L1061.0 1062.0 L1061.5 1059.7 L1062.0 1060.0 L1062.5 1060.7 L1063.0 1058.2 L1063.5 1060.4 L1064.0 1058.7 L1064.5 1059.2 L1064.9 1057.3 L1065.4 1058.1 L1065.9 1058.8 L1066.4 1058.6 L1066.9 1056.9 L1067.4 1055.0 L1067.9 1058.0 L1068.4 1057.2 L1068.9 1054.7 L1069.4 1053.2 L1069.9 1056.1 L1070.4 1055.1 L1070.9 1052.8 L1071.4 1057.4 L1071.8 1054.6 L1072.3 1055.6 L1072.8 1060.0 L1073.3 1059.2 L1073.8 1062.2 L1074.3 1060.8 L1074.8 1057.4 L1075.3 1059.1 L1075.8 1058.9 L1076.3 1061.8 L1076.8 1060.5 L1077.3 1064.4 L1077.8 1060.6 L1078.3 1058.2 L1078.8 1060.0 L1079.3 1056.6 L1079.8 1058.3 L1080.3 1057.0 L1080.8 1056.8 L1081.4 1057.1 L1081.9 1056.3 L1082.4 1055.7 L1082.9 1054.2 L1083.4 1056.1 L1083.9 1054.0 L1084.4 1053.4 L1084.9 1054.5 L1085.4 1054.8 L1085.9 1052.3 L1086.4 1055.6 L1086.9 1053.5 L1087.4 1057.6 L1087.9 1059.5 L1088.4 1058.7 L1088.9 1060.9 L1089.4 1062.9 L1089.8 1061.8 L1090.3 1058.8 L1090.8 1061.2 L1091.4 1059.6 L1091.9 1058.3 L1092.4 1059.1 L1092.9 1058.6 L1093.4 1057.1 L1093.9 1056.9 L1094.4 1056.1 L1094.9 1056.6 L1095.4 1060.0 L1095.9 1060.9 L1096.4 1060.2 L1096.9 1060.8 L1097.5 1062.5 L1098.0 1062.8 L1098.5 1060.6 L1099.0 1064.3 L1099.5 1061.3 L1100.0 1060.4 L1100.4 1062.8 L1100.9 1060.2 L1101.4 1062.2 L1101.9 1061.6 L1102.4 1062.6 L1102.9 1060.4 L1103.4 1060.1 L1103.9 1061.0 L1104.4 1057.0 L1104.9 1059.4 L1105.4 1059.6 L1105.9 1059.0 L1106.4 1058.9 L1106.9 1057.9 L1107.5 1053.7 L1108.0 1054.5 L1108.4 1055.5 L1108.9 1056.1 L1109.4 1057.5 L1109.9 1057.5 L1110.4 1057.2 L1111.0 1058.4 L1111.5 1058.4 L1112.0 1060.2 L1112.5 1059.1 L1113.0 1057.6 L1113.5 1058.3 L1114.0 1061.1 L1114.6 1058.3 L1115.1 1057.2 L1115.6 1056.8 L1116.1 1057.7 L1116.6 1058.9 L1117.1 1064.1 L1117.6 1062.3 L1118.1 1057.9 L1118.6 1058.7 L1119.1 1058.1 L1119.6 1056.7 L1120.1 1055.3 L1120.6 1057.2 L1121.1 1057.2 L1121.6 1057.5 L1122.1 1055.7 L1122.6 1057.1 L1123.1 1055.1 L1123.6 1058.8 L1124.1 1057.9 L1124.6 1057.9 L1125.1 1059.9 L1125.6 1059.8 L1126.1 1059.2 L1126.6 1060.2 L1127.1 1060.5 L1127.6 1060.7 L1128.1 1064.3 L1128.6 1065.1 L1129.2 1060.8 L1129.7 1060.3 L1130.2 1058.4 L1130.7 1059.5 L1131.2 1060.9 L1131.8 1061.9 L1132.3 1059.4 L1132.8 1061.3 L1133.3 1060.7 L1133.9 1059.3 L1134.3 1058.0 L1134.8 1055.7 L1135.3 1054.6 L1135.8 1056.5 L1136.2 1053.9 L1136.7 1052.8 L1137.2 1052.2 L1137.6 1051.1 L1138.2 1050.5 L1138.7 1052.6 L1139.2 1050.6 L1139.7 1050.1 L1140.3 1052.6 L1140.8 1053.6 L1141.3 1055.0 L1141.8 1055.3 L1142.4 1057.5 L1142.9 1057.1 L1143.4 1057.5 L1143.9 1056.2 L1144.4 1057.7 L1144.9 1057.8 L1145.5 1059.9 L1146.0 1061.4 L1146.5 1058.8 L1147.0 1060.6 L1147.5 1058.0 L1148.0 1059.3 L1148.6 1058.5 L1149.1 1060.4 L1149.6 1057.1 L1150.1 1058.6 L1150.7 1061.8 L1151.2 1062.5 L1151.7 1065.6 L1152.2 1063.2 L1152.8 1062.5 L1153.3 1067.1 L1153.8 1066.0 L1154.3 1064.5 L1154.8 1061.9 L1155.4 1060.3 L1155.9 1061.0 L1156.4 1059.7 L1156.9 1058.6 L1157.5 1061.0 L1157.9 1057.2 L1158.4 1056.8 L1158.9 1056.9 L1159.3 1057.4 L1159.9 1055.4 L1160.4 1054.6 L1160.9 1050.7 L1161.5 1050.8 L1162.0 1052.9 L1162.5 1050.5 L1162.9 1049.3 L1163.4 1047.1 L1163.8 1046.7 L1164.3 1042.1 L1164.8 1039.0 L1165.3 1036.8 L1165.8 1035.6 L1166.4 1031.9 L1166.9 1030.2 L1167.4 1023.5 L1167.9 1016.6 L1168.3 1011.8 L1168.8 1007.1 L1168.8 900.0 L1169.3 860.0 L1169.8 820.6 L1170.2 780.0 L1170.7 721.5 L1171.4 780.0 L1172.0 860.0 L1172.8 976.0 L1173.2 959.0 L1173.7 939.9 L1174.1 920.1 L1174.6 900.0 L1175.0 881.5 L1175.6 900.0 L1176.0 936.9 L1176.4 973.0 L1176.4 1036.9 L1177.0 1041.4 L1177.5 1048.2 L1178.0 1049.1 L1178.4 1049.8 L1178.9 1049.5 L1179.4 1051.6 L1179.9 1054.0 L1180.3 1052.9 L1180.8 1052.9 L1181.3 1053.8 L1181.8 1052.6 L1182.3 1053.2 L1182.8 1055.6 L1183.2 1052.7 L1183.7 1056.0 L1184.2 1053.3 L1184.7 1054.9 L1185.3 1053.7 L1185.8 1052.3 L1186.3 1055.1 L1186.8 1054.5 L1187.3 1055.9 L1187.8 1057.4 L1188.3 1057.2 L1188.8 1058.5 L1189.3 1059.5 L1189.8 1057.4 L1190.3 1054.4 L1190.8 1052.8 L1191.4 1053.9 L1191.9 1054.4 L1192.3 1052.9 L1192.8 1051.3 L1193.2 1052.9 L1193.7 1052.5 L1194.1 1050.3 L1194.5 1048.9 L1195.0 1048.2 L1195.4 1047.4 L1195.9 1045.5 L1196.3 1044.7 L1196.7 1042.4 L1197.4 1039.2 L1198.0 1034.2 L1198.0 1009.8 L1198.4 1004.8 L1198.8 1000.9 L1199.3 996.0 L1199.7 993.6 L1200.0 991.3 L1200.3 993.6 L1200.4 1015.3 L1200.9 1031.8 L1201.4 1028.8 L1201.8 1026.6 L1202.3 1023.3 L1202.7 1022.7 L1203.3 1020.3 L1203.8 1019.6 L1204.3 1031.5 L1204.9 1036.5 L1205.4 1043.7 L1205.9 1044.6 L1206.3 1046.6 L1206.8 1047.5 L1207.3 1049.5 L1207.7 1049.7 L1208.3 1055.5 L1208.8 1057.4 L1209.3 1059.0 L1209.8 1062.6 L1210.3 1061.8 L1210.8 1059.8 L1211.2 1063.0 L1211.7 1061.8 L1212.2 1060.1 L1212.7 1059.6 L1213.2 1061.0 L1213.7 1057.7 L1214.2 1057.0 L1214.7 1054.4 L1215.2 1056.6 L1215.7 1053.6 L1216.1 1054.4 L1216.6 1055.8 L1217.1 1055.4 L1217.6 1057.4 L1218.1 1059.5 L1218.6 1058.4 L1219.1 1059.2 L1219.6 1061.2 L1220.1 1060.0 L1220.6 1061.1 L1221.1 1059.5 L1221.6 1059.9 L1222.1 1058.8 L1222.6 1060.4 L1223.1 1058.8 L1223.5 1061.0 L1224.0 1057.7 L1224.5 1059.1 L1225.0 1056.8 L1225.5 1057.7 L1226.0 1058.3 L1226.5 1059.8 L1227.0 1058.0 L1227.5 1059.9 L1228.0 1062.4 L1228.5 1061.4 L1229.0 1065.3 L1229.4 1065.0 L1229.9 1062.3 L1230.4 1064.2 L1230.9 1062.1 L1231.4 1063.8 L1231.9 1064.8 L1232.3 1062.2 L1232.8 1065.4 L1233.3 1064.5 L1233.8 1063.1 L1234.3 1063.1 L1234.8 1064.3 L1235.3 1061.4 L1235.8 1063.9 L1236.3 1061.7 L1236.8 1058.6 L1237.3 1057.8 L1237.8 1057.9 L1238.3 1060.3 L1238.8 1057.7 L1239.3 1061.5 L1239.8 1059.2 L1240.3 1058.3 L1240.8 1060.0 L1241.3 1059.4 L1241.8 1059.1 L1242.3 1062.6 L1242.8 1061.7 L1243.3 1062.6 L1243.8 1063.3 L1244.3 1061.2 L1244.8 1064.4 L1245.3 1061.2 L1245.9 1062.8 L1246.4 1062.4 L1246.9 1063.3 L1247.4 1064.3 L1247.9 1063.5 L1248.4 1060.2 L1249.0 1060.5 L1249.5 1062.7 L1250.0 1060.3 L1250.5 1062.3 L1251.0 1061.6 L1251.5 1062.3 L1252.0 1061.5 L1252.6 1063.8 L1253.1 1061.8 L1253.6 1063.2 L1254.1 1062.0 L1254.6 1060.4 L1255.1 1061.7 L1255.6 1062.4 L1256.1 1061.1 L1256.6 1062.6 L1257.1 1060.4 L1257.6 1057.3 L1258.1 1057.9 L1258.5 1059.7 L1259.0 1061.1 L1259.5 1062.6 L1260.0 1060.7 L1260.5 1060.7 L1261.0 1059.7 L1261.5 1057.5 L1262.0 1060.5 L1262.5 1060.8 L1263.0 1060.9 L1263.5 1063.7 L1264.0 1065.3 L1264.5 1061.3 L1265.0 1061.3 L1265.5 1062.8 L1266.0 1060.8 L1266.5 1060.3 L1267.0 1060.6 L1267.6 1061.6 L1268.1 1059.0 L1268.6 1059.9 L1269.1 1059.4 L1269.6 1061.1 L1270.1 1061.5 L1270.6 1058.1 L1271.2 1060.4 L1271.7 1061.8 L1272.2 1062.9 L1272.7 1063.2 L1273.2 1061.7 L1273.7 1062.5 L1274.3 1061.9 L1274.8 1060.2 L1275.3 1058.4 L1275.8 1058.6 L1276.3 1057.1 L1276.9 1055.7 L1277.4 1055.8 L1277.9 1054.7 L1278.3 1054.0 L1278.8 1056.8 L1279.3 1058.3 L1279.8 1059.0 L1280.3 1061.1 L1280.8 1061.7 L1281.3 1061.5 L1281.8 1062.4 L1282.3 1062.0 L1282.8 1060.6 L1283.3 1061.4 L1283.9 1061.0 L1284.4 1063.2 L1284.9 1061.1 L1285.4 1060.4 L1285.9 1059.7 L1286.4 1062.3 L1286.9 1060.2 L1287.4 1061.2 L1287.8 1061.0 L1288.3 1060.6 L1288.8 1062.8 L1289.3 1060.3 L1289.7 1059.2 L1290.2 1061.8 L1290.7 1059.6 L1291.2 1059.3 L1291.6 1059.4 L1292.1 1059.6 L1292.6 1060.9 L1293.0 1061.4 L1293.5 1063.4 L1294.0 1063.2 L1294.5 1062.3 L1294.9 1062.1 L1295.4 1060.1 L1295.9 1057.9 L1296.3 1062.4 L1296.8 1061.2 L1297.3 1059.4 L1297.8 1059.9 L1298.2 1062.4 L1298.7 1064.8 L1299.2 1063.4 L1299.6 1062.4 L1300.2 1065.1 L1300.7 1063.1 L1301.2 1064.0 L1301.7 1060.4 L1302.2 1061.6 L1302.7 1062.7 L1303.3 1060.0 L1303.8 1059.8 L1304.3 1058.9 L1304.8 1059.5 L1305.3 1062.4 L1305.8 1061.3 L1306.3 1064.3 L1306.8 1063.8 L1307.3 1065.4 L1307.9 1064.3 L1308.4 1065.5 L1308.9 1066.2 L1309.4 1064.9 L1309.9 1062.7 L1310.4 1064.2 L1310.9 1064.5 L1311.4 1062.7 L1311.9 1064.1 L1312.4 1059.8 L1312.9 1062.0 L1313.4 1062.9 L1314.0 1061.6 L1314.5 1061.5 L1315.0 1062.3 L1315.5 1063.7 L1316.0 1065.2 L1316.5 1064.5 L1317.0 1065.3 L1317.5 1062.0 L1318.0 1061.9 L1318.5 1062.4 L1319.0 1062.6 L1319.5 1061.9 L1320.0 1060.7 L1320.5 1061.5 L1321.0 1060.9 L1321.5 1060.5 L1322.0 1062.5 L1322.5 1061.7 L1323.0 1064.3 L1323.5 1063.6 L1324.0 1064.7 L1324.5 1064.8 L1325.0 1062.4 L1325.5 1061.9 L1326.0 1059.1 L1326.5 1061.7 L1327.0 1060.0 L1327.5 1061.3 L1328.0 1062.0 L1328.5 1057.8 L1329.0 1060.5 L1329.5 1061.5 L1330.0 1060.6 L1330.5 1059.9 L1331.0 1060.3 L1331.5 1060.5 L1332.0 1063.1 L1332.5 1061.0 L1333.0 1064.2 L1333.5 1063.3 L1334.0 1063.7 L1334.5 1063.1 L1335.0 1062.2 L1335.5 1062.9 L1336.0 1062.1 L1336.5 1062.9 L1337.0 1062.8 L1337.5 1065.3 L1338.0 1063.5 L1338.5 1065.1 L1339.0 1065.1 L1339.5 1065.0 L1340.1 1062.8 L1340.6 1064.0 L1341.1 1064.4 L1341.6 1061.9 L1342.1 1060.7 L1342.6 1061.0 L1343.1 1062.0 L1343.6 1062.5 L1344.1 1060.8 L1344.6 1061.6 L1345.1 1064.7 L1345.6 1064.8 L1346.1 1064.1 L1346.6 1061.4 L1347.1 1062.7 L1347.6 1060.7 L1348.1 1063.5 L1348.6 1061.9 L1349.1 1062.1 L1349.6 1061.5 L1350.1 1060.2 L1350.6 1062.0 L1351.1 1060.3 L1351.6 1060.5 L1352.1 1059.1 L1352.6 1061.9 L1353.1 1060.4 L1353.6 1060.5 L1354.1 1061.5 L1354.7 1064.5 L1355.2 1064.6 L1355.7 1061.0 L1356.2 1059.7 L1356.7 1061.9 L1357.2 1061.0 L1357.7 1064.9 L1358.2 1062.1 L1358.7 1064.7 L1359.2 1064.5 L1359.7 1062.6 L1360.2 1063.6 L1360.7 1061.7 L1361.2 1060.7 L1361.7 1062.4 L1362.2 1058.9 L1362.7 1061.2 L1363.2 1058.8 L1363.7 1061.1 L1364.2 1060.3 L1364.7 1062.4 L1365.2 1059.7 L1365.7 1062.5 L1366.2 1062.2 L1366.8 1061.9 L1367.3 1064.0 L1367.8 1064.4 L1368.3 1063.5 L1368.8 1062.4 L1369.3 1062.8 L1369.8 1063.2 L1370.4 1062.5 L1370.9 1060.1 L1371.4 1060.7 L1371.9 1056.8 L1372.4 1058.7 L1372.9 1058.0 L1373.4 1056.5 L1373.9 1058.6 L1374.4 1054.7 L1374.9 1055.1 L1375.5 1052.6 L1376.0 1055.5 L1376.5 1056.2 L1377.0 1054.6 L1377.5 1057.1 L1378.0 1052.5 L1378.5 1055.0 L1379.0 1052.5 L1379.6 1052.7 L1380.1 1054.2 L1380.6 1056.6 L1381.1 1054.8 L1381.7 1057.8 L1382.2 1058.5 L1382.7 1062.1 L1383.2 1059.3 L1383.7 1060.5 L1384.3 1062.4 L1384.8 1060.6 L1385.3 1063.9 L1385.8 1063.0 L1386.3 1065.6 L1386.8 1067.0 L1387.4 1064.9 L1387.9 1067.5 L1388.4 1063.8 L1388.9 1067.7 L1389.4 1064.4 L1389.9 1062.6 L1390.4 1062.2 L1391.0 1065.0 L1391.5 1061.4 L1392.0 1064.8 L1392.5 1061.9 L1393.0 1063.8 L1393.5 1060.8 L1394.0 1058.8 L1394.5 1061.0 L1395.0 1062.8 L1395.5 1060.2 L1395.9 1060.8 L1396.4 1062.6 L1396.9 1062.1 L1397.4 1063.1 L1397.8 1063.8 L1398.3 1063.4 L1398.9 1060.9 L1399.4 1062.8 L1399.9 1066.0 L1400.4 1066.5 L1400.9 1063.6 L1401.4 1064.9 L1401.9 1063.3 L1402.5 1063.1 L1403.0 1060.5 L1403.5 1062.1 L1404.0 1057.6 L1404.5 1061.8 L1405.0 1060.4 L1405.5 1063.6 L1406.0 1061.9 L1406.5 1062.8 L1407.0 1061.0 L1407.5 1061.7 L1408.0 1060.4 L1408.5 1062.3 L1409.0 1060.3 L1409.5 1062.5 L1410.0 1061.6 L1410.5 1060.1 L1411.0 1062.5 L1411.5 1061.0 L1412.0 1061.3 L1412.5 1062.6 L1413.1 1060.3 L1413.6 1059.5 L1414.1 1062.1 L1414.6 1061.5 L1415.1 1060.7 L1415.6 1058.8 L1416.1 1058.9 L1416.6 1059.8 L1417.1 1059.5 L1417.6 1059.8 L1418.1 1061.7 L1418.6 1063.0 L1419.1 1061.6 L1419.6 1062.8 L1420.1 1063.1 L1420.6 1062.8 L1421.1 1066.3 L1421.6 1065.4 L1422.1 1063.5 L1422.6 1062.1 L1423.1 1061.3 L1423.6 1063.6 L1424.1 1062.9 L1424.6 1066.0 L1425.1 1066.3 L1425.6 1063.7 L1426.1 1062.0 L1426.6 1061.0 L1427.1 1062.3 L1427.6 1060.3 L1428.1 1062.2 L1428.6 1060.7 L1429.1 1061.4 L1429.6 1061.2 L1430.1 1065.2 L1430.6 1062.3 L1431.1 1064.7 L1431.6 1065.9 L1432.1 1063.4 L1432.6 1064.7 L1433.1 1063.2 L1433.6 1062.2 L1434.1 1061.5 L1434.5 1060.8 L1435.0 1060.0 L1435.5 1062.2 L1436.0 1061.4 L1436.5 1061.7 L1437.0 1059.3 L1437.5 1062.5 L1438.0 1062.0 L1438.5 1063.7 L1439.0 1063.5 L1439.5 1062.4 L1440.0 1060.6 L1440.5 1062.9 L1441.0 1059.5 L1441.5 1062.5 L1442.0 1063.1 L1442.5 1060.1 L1443.1 1057.8 L1443.6 1058.2 L1444.1 1059.8 L1444.7 1058.3 L1445.2 1061.1 L1445.8 1062.9 L1446.3 1063.5 L1446.7 1063.0 L1447.2 1065.1 L1447.7 1064.7 L1448.2 1064.0 L1448.7 1062.8 L1449.2 1061.5 L1449.7 1058.7 L1450.2 1060.4 L1450.7 1060.7 L1451.2 1062.2 L1451.7 1060.9 L1452.2 1063.2 L1452.7 1062.8 L1453.2 1066.0 L1453.7 1064.9 L1454.2 1065.9 L1454.7 1065.3 L1455.3 1063.5 L1455.7 1064.2 L1456.2 1061.9 L1456.7 1060.3 L1457.2 1061.9 L1457.7 1060.1 L1458.2 1059.9 L1458.7 1059.8 L1459.2 1060.8 L1459.7 1058.5 L1460.2 1058.2 L1460.7 1062.2 L1461.2 1061.0 L1461.8 1061.2 L1462.3 1063.5 L1462.8 1065.8 L1463.4 1062.3 L1463.9 1064.5 L1464.4 1063.2 L1464.8 1059.0 L1465.3 1060.7 L1465.8 1063.2 L1466.3 1063.8 L1466.8 1061.8 L1467.3 1061.1 L1467.8 1060.2 L1468.3 1059.6 L1468.8 1057.0 L1468.8 1042.0 L1469.4 1033.1 L1469.9 1024.4 L1470.4 1015.7 L1470.8 1008.1 L1471.1 1006.8 L1471.4 1008.1 L1472.0 1015.5 L1472.6 1023.1 L1473.1 1024.6 L1473.6 1026.7 L1474.1 1028.2 L1474.6 1030.5 L1475.1 1033.0 L1475.6 1032.5 L1476.1 1034.8 L1476.6 1035.4 L1477.1 1036.5 L1477.6 1038.0 L1478.2 1038.4 L1478.7 1039.8 L1479.3 1039.2 L1479.8 1042.8 L1480.3 1042.0 L1480.5 1057.0 L1480.9 1059.0 L1481.3 1061.2 L1481.8 1060.5 L1482.2 1059.2 L1482.7 1059.8 L1483.2 1059.8 L1483.7 1060.0 L1484.1 1058.5 L1484.6 1058.9 L1485.1 1062.3 L1485.6 1059.5 L1486.1 1058.1 L1486.6 1059.8 L1487.1 1063.1 L1487.6 1062.7 L1488.0 1063.5 L1488.5 1063.4 L1489.0 1065.9 L1489.5 1063.4 L1490.0 1065.1 L1490.5 1062.3 L1491.0 1065.0 L1491.5 1062.2 L1492.0 1063.6 L1492.5 1065.5 L1493.0 1065.4 L1493.5 1064.8 L1494.0 1062.1 L1494.5 1062.1 L1494.9 1060.4 L1495.4 1060.7 L1495.9 1062.9 L1496.4 1060.0 L1496.9 1060.8 L1497.4 1062.2 L1497.9 1063.3 L1498.4 1062.1 L1498.9 1062.7 L1499.4 1064.1 L1499.9 1066.3 L1500.4 1064.5 L1500.9 1068.3 L1501.4 1063.9 L1501.8 1067.6 L1502.3 1066.2 L1502.8 1067.3 L1503.3 1065.2 L1503.8 1063.3 L1504.3 1064.9 L1504.7 1062.5 L1505.2 1062.7 L1505.7 1062.3 L1506.2 1063.6 L1506.7 1062.8 L1507.2 1060.2 L1507.7 1062.6 L1508.1 1063.3 L1508.6 1062.7 L1509.1 1062.8 L1509.6 1064.4 L1510.1 1062.9 L1510.6 1063.3 L1511.0 1065.6 L1511.5 1064.7 L1512.0 1065.6 L1512.5 1066.0 L1513.0 1066.0 L1513.5 1064.2 L1513.9 1063.3 L1514.4 1061.4 L1514.9 1063.6 L1515.4 1061.9 L1515.9 1065.0 L1516.4 1064.8 L1516.9 1065.3 L1517.4 1064.9 L1517.9 1062.0 L1518.4 1062.2 L1518.9 1061.5 L1519.4 1064.1 L1519.8 1061.3 L1520.3 1060.5 L1520.8 1060.8 L1521.3 1063.2 L1521.8 1062.3 L1522.3 1060.1 L1522.8 1062.1 L1523.3 1061.9 L1523.8 1060.7 L1524.3 1058.6 L1524.8 1060.4 L1525.3 1058.9 L1525.8 1059.8 L1526.3 1059.2 L1526.7 1061.0 L1527.2 1060.5 L1527.7 1061.0 L1528.2 1058.6 L1528.7 1059.6 L1529.2 1060.6 L1529.7 1059.2 L1530.2 1063.8 L1530.7 1062.1 L1531.2 1062.4 L1531.7 1062.7 L1532.2 1061.7 L1532.7 1060.3 L1533.2 1061.4 L1533.7 1060.1 L1534.1 1060.2 L1534.6 1060.1 L1535.1 1058.9 L1535.6 1060.7 L1536.1 1063.8 L1536.6 1062.7 L1537.1 1065.4 L1537.6 1064.7 L1538.1 1061.6 L1538.5 1060.5 L1539.0 1059.1 L1539.5 1060.6 L1540.0 1062.4 L1540.5 1059.3 L1541.0 1059.4 L1541.5 1059.5 L1542.0 1059.8 L1542.5 1058.9 L1543.1 1060.9 L1543.6 1059.6 L1544.1 1063.2 L1544.6 1062.7 L1545.1 1062.4 L1545.6 1060.5 L1546.1 1061.2 L1546.6 1061.8 L1547.1 1062.6 L1547.6 1064.4 L1548.1 1064.7 L1548.6 1065.4 L1549.2 1067.3 L1549.7 1065.4 L1550.2 1066.9 L1550.7 1067.4 L1551.2 1066.9 L1551.7 1064.0" fill="none" stroke="#505050" stroke-width="5" stroke-linejoin="round" stroke-linecap="round"/>
<path d="M175.7 546.8 L176.2 546.1 L176.7 545.5 L177.2 546.0 L177.7 546.5 L178.2 546.6 L178.8 544.5 L179.3 543.8 L179.8 543.6 L180.3 541.4 L180.8 542.9 L181.3 546.6 L181.8 544.2 L182.4 545.4 L182.9 545.4 L183.4 545.7 L183.9 546.4 L184.4 544.4 L184.9 545.0 L185.4 544.2 L186.0 544.8 L186.5 542.4 L187.0 545.6 L187.5 544.6 L188.0 545.6 L188.5 546.2 L189.1 545.5 L189.6 543.8 L190.1 541.1 L190.6 543.5 L191.1 544.0 L191.6 542.2 L192.1 541.6 L192.7 541.7 L193.2 544.5 L193.7 544.5 L194.2 547.1 L194.7 547.8 L195.2 545.3 L195.7 545.9 L196.3 547.2 L196.8 545.1 L197.3 549.1 L197.8 548.6 L198.3 547.8 L198.8 548.6 L199.3 548.9 L199.8 549.0 L200.4 549.2 L200.9 548.6 L201.4 545.7 L201.9 548.4 L202.4 546.0 L202.9 546.5 L203.4 545.5 L203.9 550.9 L204.4 548.9 L204.9 549.9 L205.4 554.2 L205.9 551.9 L206.3 551.2 L206.8 550.5 L207.3 548.1 L207.8 546.6 L208.3 548.1 L208.8 547.3 L209.3 546.0 L209.8 544.9 L210.3 542.7 L210.8 545.6 L211.3 544.2 L211.8 548.0 L212.3 546.2 L212.8 548.7 L213.4 550.3 L213.9 547.8 L214.4 546.6 L214.9 549.6 L215.4 546.1 L215.9 544.4 L216.5 543.6 L217.0 548.1 L217.5 549.5 L218.0 550.0 L218.6 549.9 L219.1 547.5 L219.6 551.3 L220.1 551.4 L220.6 549.4 L221.1 549.7 L221.6 550.1 L222.1 546.0 L222.6 546.3 L223.1 547.0 L223.6 545.2 L224.1 545.8 L224.6 546.0 L225.1 543.5 L225.6 544.3 L226.1 542.6 L226.6 546.6 L227.1 543.9 L227.6 543.0 L228.1 544.7 L228.5 544.1 L229.0 548.9 L229.5 548.6 L229.9 553.9 L230.4 548.8 L230.9 549.8 L231.4 547.8 L231.9 546.8 L232.4 548.7 L233.0 549.9 L233.5 551.2 L234.0 551.2 L234.5 549.1 L235.0 550.5 L235.5 548.9 L236.0 549.8 L236.5 549.0 L237.0 549.2 L237.5 550.4 L238.1 549.5 L238.6 549.6 L239.1 546.5 L239.6 545.0 L240.2 543.0 L240.7 543.5 L241.2 539.3 L241.7 540.6 L242.2 537.2 L242.7 540.4 L243.2 541.4 L243.6 542.1 L244.1 543.1 L244.6 545.3 L245.0 544.9 L245.5 544.7 L246.0 544.7 L246.5 541.4 L247.1 540.9 L247.6 543.0 L248.1 544.0 L248.6 544.2 L249.1 543.6 L249.6 547.5 L250.2 547.8 L250.7 547.6 L251.2 548.8 L251.7 548.7 L252.1 547.3 L252.6 546.2 L253.1 543.5 L253.6 540.7 L254.1 540.1 L254.6 537.8 L255.1 534.6 L255.6 532.0 L256.2 524.2 L256.8 515.5 L257.4 508.2 L257.9 494.0 L258.5 476.6 L259.1 444.9 L259.7 441.0 L260.4 444.9 L261.2 476.6 L261.6 484.9 L262.0 496.4 L262.4 508.2 L263.0 511.7 L263.5 517.4 L264.0 520.7 L264.6 527.2 L265.1 532.0 L265.6 533.4 L266.1 537.0 L266.5 540.1 L267.0 540.3 L267.5 543.1 L268.0 547.6 L268.4 542.4 L268.9 539.5 L269.4 535.9 L269.9 534.7 L270.3 531.6 L270.8 528.8 L271.3 525.8 L271.8 524.8 L272.2 525.0 L272.7 524.0 L273.2 509.7 L273.7 497.1 L274.2 484.7 L274.8 475.0 L275.2 464.7 L275.6 453.2 L276.0 444.9 L276.4 421.2 L276.5 381.6 L276.8 367.4 L277.3 371.6 L277.8 377.7 L278.2 381.6 L279.0 421.2 L279.8 444.9 L280.5 475.0 L280.9 497.1 L281.5 506.6 L282.0 511.8 L282.5 517.6 L283.0 524.0 L283.5 530.9 L284.1 537.4 L284.6 541.3 L285.1 541.8 L285.6 539.1 L286.1 542.3 L286.6 540.5 L287.1 541.1 L287.6 539.5 L288.1 542.3 L288.6 542.5 L289.1 539.1 L289.6 541.4 L290.1 544.5 L290.6 539.9 L291.1 543.2 L291.6 539.8 L292.1 540.3 L292.5 543.3 L293.0 543.3 L293.5 548.0 L294.0 549.9 L294.5 551.2 L295.0 548.6 L295.5 551.0 L296.0 551.9 L296.4 548.4 L297.0 549.4 L297.5 547.6 L298.0 547.9 L298.5 546.9 L299.1 545.8 L299.6 540.8 L300.1 537.9 L300.7 538.2 L301.2 541.1 L301.7 541.5 L302.2 542.7 L302.6 540.3 L303.1 541.0 L303.6 541.3 L304.1 539.6 L304.6 538.2 L305.1 538.7 L305.6 541.6 L306.1 540.2 L306.6 537.4 L307.0 537.4 L307.5 535.8 L308.0 533.2 L308.5 534.4 L308.9 532.4 L309.4 531.8 L309.9 528.8 L310.3 525.4 L310.7 519.3 L311.2 516.1 L311.7 507.7 L312.3 501.9 L312.7 444.9 L313.1 388.0 L313.4 365.8 L313.8 350.0 L314.5 365.8 L314.9 388.0 L315.7 444.9 L316.2 459.8 L316.6 474.1 L317.0 487.6 L317.3 501.9 L317.5 516.1 L317.8 528.8 L318.4 534.9 L318.9 537.4 L319.4 538.1 L319.9 539.6 L320.4 542.3 L320.9 540.7 L321.4 541.6 L321.9 543.6 L322.3 542.9 L322.8 546.9 L323.3 543.7 L323.9 548.5 L324.4 544.6 L324.9 546.7 L325.4 546.7 L326.0 543.9 L326.5 545.1 L327.0 542.9 L327.6 542.2 L328.1 543.7 L328.6 544.5 L329.1 544.6 L329.7 543.1 L330.2 544.1 L330.7 544.2 L331.2 539.2 L331.8 541.0 L332.3 539.7 L332.8 535.6 L333.3 534.1 L333.9 530.4 L334.4 526.7 L334.9 524.0 L335.4 516.0 L336.0 505.0 L336.8 459.2 L337.3 427.2 L337.7 394.3 L338.0 350.0 L338.6 335.1 L339.1 316.8 L339.6 300.0 L340.4 258.4 L340.9 279.8 L341.3 300.0 L341.8 350.0 L342.6 394.3 L343.1 459.2 L343.3 505.0 L343.9 524.0 L344.4 527.6 L345.0 532.8 L345.5 537.4 L346.0 539.8 L346.5 541.4 L347.1 541.9 L347.5 539.7 L348.0 534.9 L348.5 531.7 L349.0 527.4 L349.4 524.4 L349.9 522.4 L350.5 506.8 L351.0 492.4 L351.4 485.0 L351.9 479.7 L352.3 471.8 L352.9 469.4 L353.5 471.8 L354.1 488.2 L354.7 500.3 L355.0 524.0 L355.5 530.6 L356.0 536.2 L356.6 539.2 L357.0 540.5 L357.5 540.8 L358.0 540.5 L358.5 542.8 L358.9 543.7 L359.5 543.3 L360.0 544.4 L360.5 544.6 L361.1 547.8 L361.6 544.6 L362.1 545.3 L362.7 545.2 L363.2 543.0 L363.7 541.5 L364.3 540.6 L364.8 537.9 L365.3 537.4 L365.8 535.9 L366.3 535.4 L366.8 533.7 L367.3 532.3 L367.8 530.9 L368.3 528.7 L368.8 526.6 L369.3 527.2 L369.8 529.1 L370.3 530.4 L370.8 533.4 L371.4 532.9 L371.9 534.0 L372.4 537.3 L372.9 536.8 L373.4 540.0 L373.9 542.3 L374.4 544.0 L374.9 543.7 L375.4 545.8 L375.9 547.0 L376.4 548.7 L376.9 545.7 L377.4 545.2 L378.0 541.0 L378.5 540.4 L379.0 539.6 L379.5 537.3 L380.0 531.9 L380.5 522.5 L381.0 515.7 L381.4 508.2 L382.0 508.7 L382.5 505.2 L383.0 505.8 L383.5 505.8 L384.0 509.1 L384.5 506.9 L384.9 509.0 L385.4 509.7 L385.9 508.2 L386.4 503.4 L386.9 496.7 L387.5 490.6 L388.0 487.1 L388.5 481.0 L389.0 476.6 L389.5 470.5 L390.0 464.9 L390.5 460.5 L390.9 457.6 L391.4 455.7 L391.9 456.3 L392.4 458.0 L393.0 460.7 L393.4 471.8 L393.8 482.9 L394.3 492.4 L395.1 524.0 L395.6 524.9 L396.1 527.2 L396.6 531.0 L397.2 532.6 L397.7 534.5 L398.2 538.2 L398.7 537.3 L399.2 536.5 L399.6 533.2 L400.1 531.9 L400.6 530.6 L401.1 529.0 L401.5 526.5 L402.0 525.2 L402.5 522.4 L403.0 522.0 L403.5 522.5 L404.0 525.3 L404.5 524.1 L405.0 525.6 L405.5 521.9 L405.9 521.2 L406.4 521.6 L406.9 519.7 L407.4 522.3 L407.9 521.5 L408.4 522.7 L408.9 522.4 L409.4 522.8 L409.9 521.5 L410.4 524.0 L410.9 521.4 L411.5 521.3 L412.0 519.3 L412.5 518.4 L413.1 516.1 L413.6 513.6 L414.1 511.8 L414.6 508.7 L415.1 505.8 L415.7 509.2 L416.2 505.0 L416.7 511.8 L417.2 516.1 L417.8 525.0 L418.3 531.9 L418.8 531.5 L419.3 531.6 L419.8 531.4 L420.4 533.7 L420.8 527.0 L421.3 522.0 L421.8 515.3 L422.3 508.2 L422.7 503.5 L423.2 499.5 L423.7 494.9 L424.2 492.4 L424.7 491.7 L425.2 488.2 L425.7 489.3 L426.2 489.3 L426.7 489.7 L427.2 495.0 L427.6 498.0 L428.1 503.6 L428.6 508.2 L429.1 513.8 L429.6 518.1 L430.2 522.4 L430.7 527.5 L431.2 525.9 L431.8 524.8 L432.2 524.7 L432.7 522.3 L433.2 519.4 L433.6 518.6 L434.1 516.1 L434.9 457.6 L435.5 444.0 L436.0 429.1 L436.5 388.4 L437.0 350.0 L437.5 230.0 L438.2 133.3 L438.7 179.7 L439.2 230.0 L439.7 253.4 L440.1 276.4 L440.6 301.3 L441.1 325.5 L441.6 350.0 L442.0 389.0 L442.5 429.1 L443.1 457.6 L443.3 476.6 L443.1 516.1 L443.6 531.9 L444.1 528.2 L444.6 530.5 L445.1 528.8 L445.6 531.1 L446.1 531.2 L446.6 529.2 L447.1 529.8 L447.6 531.1 L448.1 531.4 L448.6 534.0 L449.2 533.0 L449.7 533.2 L450.2 535.6 L450.7 534.5 L451.3 531.8 L451.8 530.0 L452.3 528.4 L452.8 526.9 L453.4 525.3 L453.9 524.0 L454.4 521.2 L454.8 519.5 L455.3 516.3 L455.8 513.8 L456.3 508.2 L456.8 508.9 L457.3 505.5 L457.9 504.2 L458.3 507.1 L458.8 510.2 L459.3 511.3 L459.8 516.1 L460.2 517.5 L460.7 520.0 L461.2 523.3 L461.6 525.7 L462.1 527.6 L462.6 531.9 L463.1 534.3 L463.7 533.9 L464.2 534.3 L464.7 532.9 L465.2 530.3 L465.8 535.4 L466.2 533.8 L466.7 535.2 L467.2 537.5 L467.7 537.4 L468.1 537.3 L468.7 537.9 L469.2 540.0 L469.7 541.1 L470.2 540.5 L470.8 543.4 L471.3 542.5 L471.8 544.2 L472.4 547.6 L472.9 548.8 L473.4 549.9 L473.9 547.2 L474.5 547.6 L475.0 546.6 L475.5 546.3 L476.0 547.4 L476.6 544.8 L477.1 547.0 L477.6 550.1 L478.1 547.8 L478.6 546.6 L479.1 547.3 L479.6 544.4 L480.1 544.9 L480.6 547.0 L481.1 545.3 L481.6 546.6 L482.1 547.8 L482.6 549.1 L483.1 547.1 L483.6 547.5 L484.1 548.9 L484.7 546.8 L485.2 545.4 L485.7 547.2 L486.2 545.1 L486.7 546.3 L487.2 549.5 L487.7 546.8 L488.2 548.1 L488.7 546.4 L489.2 548.5 L489.7 551.3 L490.2 551.7 L490.7 550.7 L491.2 550.3 L491.7 549.0 L492.2 548.8 L492.7 548.6 L493.2 551.4 L493.7 552.0 L494.2 550.0 L494.8 549.5 L495.2 552.9 L495.7 549.5 L496.2 550.5 L496.6 552.9 L497.1 552.7 L497.6 552.1 L498.1 553.4 L498.5 555.9 L499.0 552.0 L499.5 552.0 L499.9 551.5 L500.4 549.0 L500.9 550.9 L501.4 547.3 L502.0 544.4 L502.5 544.7 L503.0 542.0 L503.5 539.3 L504.0 540.0 L504.5 540.2 L505.0 539.3 L505.6 538.8 L506.1 537.6 L506.6 537.5 L507.1 539.4 L507.7 540.8 L508.2 538.9 L508.7 539.9 L509.2 543.3 L509.8 543.0 L510.3 547.0 L510.8 549.0 L511.3 550.1 L511.8 550.7 L512.3 552.6 L512.8 552.6 L513.3 549.3 L513.8 550.4 L514.4 548.9 L514.9 548.3 L515.4 547.8 L515.9 547.8 L516.4 550.2 L516.9 549.6 L517.4 551.3 L517.9 548.6 L518.4 548.6 L519.0 549.3 L519.5 549.2 L520.0 551.2 L520.5 550.1 L521.0 549.5 L521.5 549.0 L522.0 548.7 L522.6 550.8 L523.1 549.6 L523.6 548.5 L524.1 550.2 L524.6 551.8 L525.1 550.8 L525.6 549.7 L526.1 553.0 L526.5 552.8 L527.0 548.5 L527.5 548.7 L528.0 549.1 L528.5 550.7 L529.0 549.7 L529.5 551.9 L530.0 550.7 L530.5 553.0 L531.0 551.5 L531.5 551.8 L532.0 553.8 L532.5 549.7 L533.0 550.6 L533.5 548.7 L534.1 546.6 L534.6 547.5 L535.1 550.2 L535.6 551.4 L536.1 552.5 L536.6 551.6 L537.1 548.0 L537.7 548.4 L538.2 547.0 L538.6 547.5 L539.1 544.7 L539.6 543.7 L540.1 543.8 L540.5 547.2 L541.0 549.6 L541.5 550.7 L542.0 549.2 L542.4 547.3 L542.9 549.4 L543.4 547.9 L543.8 548.7 L544.3 547.6 L544.8 549.8 L545.3 549.9 L545.7 544.1 L546.2 544.0 L546.7 546.6 L547.1 543.7 L547.6 544.3 L548.1 546.4 L548.6 549.4 L549.0 551.7 L549.5 549.7 L550.0 549.9 L550.5 551.6 L551.0 551.0 L551.6 553.2 L552.1 552.9 L552.6 552.4 L553.1 552.3 L553.6 555.0 L554.1 555.6 L554.7 553.6 L555.2 551.4 L555.7 552.5 L556.2 552.3 L556.7 551.9 L557.2 553.0 L557.7 550.7 L558.3 552.2 L558.8 551.4 L559.3 551.4 L559.8 547.5 L560.3 546.5 L560.8 549.7 L561.3 547.2 L561.8 551.6 L562.2 549.3 L562.7 550.6 L563.2 548.9 L563.7 549.8 L564.1 548.4 L564.6 548.0 L565.1 550.4 L565.6 548.6 L566.2 550.7 L566.7 549.6 L567.2 549.9 L567.7 551.5 L568.2 551.3 L568.7 550.1 L569.2 548.5 L569.8 547.9 L570.3 551.9 L570.8 553.5 L571.3 552.2 L571.8 552.5 L572.3 553.2 L572.8 554.6 L573.4 556.9 L573.9 553.4 L574.4 556.2 L574.9 554.4 L575.4 554.0 L575.9 550.6 L576.4 554.2 L576.9 551.4 L577.4 549.0 L577.9 551.1 L578.5 552.0 L579.0 552.3 L579.5 551.2 L580.0 553.2 L580.5 551.9 L581.0 551.4 L581.5 548.3 L582.0 551.1 L582.5 551.7 L583.0 550.4 L583.5 549.4 L584.0 549.3 L584.5 548.9 L585.1 547.6 L585.6 545.6 L586.1 544.9 L586.6 544.6 L587.2 540.7 L587.7 540.1 L588.2 540.8 L588.7 536.0 L589.2 537.2 L589.7 541.5 L590.2 538.3 L590.7 541.5 L591.3 543.4 L591.8 543.8 L592.3 544.0 L592.8 543.0 L593.3 545.5 L593.8 546.3 L594.3 546.7 L594.8 544.1 L595.3 548.1 L595.8 544.3 L596.4 548.0 L596.9 545.4 L597.4 546.4 L597.9 544.1 L598.4 546.6 L598.9 544.5 L599.4 549.1 L600.0 549.8 L600.5 550.6 L601.0 550.6 L601.5 548.9 L602.0 548.6 L602.5 549.1 L603.1 548.5 L603.6 551.2 L604.1 551.4 L604.6 550.3 L605.1 551.7 L605.6 547.8 L606.1 549.8 L606.7 545.8 L607.2 547.1 L607.7 549.1 L608.2 547.3 L608.7 550.5 L609.2 550.5 L609.7 551.9 L610.3 549.0 L610.8 547.2 L611.3 546.0 L611.8 548.9 L612.3 545.8 L612.9 546.5 L613.4 544.9 L613.9 547.7 L614.4 548.3 L615.0 549.0 L615.5 551.0 L616.0 553.7 L616.5 551.5 L617.1 551.3 L617.6 554.5 L618.1 552.1 L618.6 554.1 L619.1 551.3 L619.7 554.9 L620.2 552.0 L620.7 553.8 L621.2 549.8 L621.7 550.4 L622.3 551.8 L622.8 553.6 L623.3 551.6 L623.8 551.1 L624.3 551.9 L624.8 552.1 L625.3 549.1 L625.8 549.4 L626.3 551.0 L626.8 554.7 L627.3 550.4 L627.8 550.8 L628.3 547.9 L628.8 549.5 L629.3 547.2 L629.8 545.5 L630.3 547.6 L630.8 549.1 L631.3 549.5 L631.8 549.2 L632.3 549.2 L632.8 549.8 L633.3 547.4 L633.8 550.1 L634.3 549.0 L634.8 548.1 L635.3 549.9 L635.8 549.7 L636.3 549.5 L636.8 550.8 L637.3 550.1 L637.8 551.8 L638.3 551.7 L638.8 551.4 L639.3 549.2 L639.8 551.8 L640.3 551.0 L640.8 552.5 L641.3 553.3 L641.8 555.7 L642.3 552.8 L642.8 553.8 L643.3 555.8 L643.8 554.3 L644.3 552.1 L644.8 553.6 L645.3 554.4 L645.8 553.2 L646.3 550.8 L646.7 552.4 L647.2 548.6 L647.7 551.9 L648.1 549.6 L648.6 549.5 L649.1 549.7 L649.6 553.4 L650.1 552.9 L650.7 554.3 L651.2 554.0 L651.7 554.0 L652.2 551.4 L652.7 552.2 L653.2 546.7 L653.7 549.4 L654.2 550.1 L654.7 549.4 L655.2 549.8 L655.7 554.2 L656.2 553.0 L656.6 553.8 L657.1 555.7 L657.6 552.8 L658.1 552.5 L658.5 553.5 L659.0 551.5 L659.5 549.9 L660.0 552.0 L660.5 553.1 L661.0 551.9 L661.5 550.3 L662.0 552.0 L662.5 551.5 L663.0 550.3 L663.5 549.8 L664.0 552.0 L664.5 552.2 L665.0 549.9 L665.6 550.8 L666.1 549.5 L666.6 551.1 L667.1 549.1 L667.6 550.6 L668.0 553.0 L668.5 553.0 L669.0 549.3 L669.5 548.3 L670.0 548.0 L670.5 548.8 L671.0 548.5 L671.5 551.6 L672.0 549.7 L672.5 555.5 L673.0 551.6 L673.5 552.4 L674.0 552.5 L674.5 550.9 L675.0 548.3 L675.5 550.0 L676.0 549.6 L676.5 548.0 L677.0 546.3 L677.6 547.9 L678.1 547.9 L678.6 548.7 L679.1 545.9 L679.6 546.2 L680.2 545.4 L680.7 543.3 L681.2 541.9 L681.7 541.3 L682.2 543.5 L682.7 542.7 L683.1 541.4 L683.6 541.5 L684.1 544.9 L684.6 542.0 L685.1 539.4 L685.6 537.3 L686.1 541.0 L686.6 540.5 L687.1 539.5 L687.5 540.0 L688.0 538.2 L688.5 537.2 L688.9 536.8 L689.4 534.8 L689.9 536.3 L690.4 534.2 L690.9 531.5 L691.4 530.1 L691.9 525.1 L692.4 519.8 L692.8 513.1 L693.3 504.7 L693.7 494.8 L694.2 483.8 L694.6 470.8 L695.3 443.7 L695.8 421.4 L696.2 401.2 L696.7 380.0 L696.9 330.0 L697.1 314.4 L697.6 330.0 L698.1 338.7 L698.6 349.1 L699.2 358.1 L699.7 369.7 L700.2 380.0 L700.7 395.3 L701.3 412.5 L701.8 444.1 L702.4 473.6 L702.8 487.9 L703.3 499.3 L704.0 529.2 L704.7 539.4 L705.1 542.9 L705.6 545.8 L706.0 546.4 L706.4 548.3 L706.9 549.6 L707.5 549.1 L708.0 548.6 L708.5 550.3 L709.0 546.0 L709.4 546.4 L709.9 544.7 L710.4 544.2 L710.9 546.0 L711.4 543.0 L711.9 544.1 L712.3 544.5 L712.8 544.0 L713.3 541.7 L713.8 542.0 L714.3 540.3 L714.8 541.6 L715.3 536.7 L715.7 535.7 L716.2 535.9 L716.7 537.4 L717.2 541.8 L717.7 544.3 L718.2 545.4 L718.6 544.1 L719.2 544.4 L719.7 541.8 L720.3 545.2 L720.8 543.0 L721.4 549.0 L721.8 546.0 L722.3 546.2 L722.8 547.9 L723.3 547.7 L723.8 546.4 L724.3 549.6 L724.7 550.8 L725.2 547.6 L725.7 551.2 L726.2 550.1 L726.7 549.0 L727.2 548.8 L727.7 547.5 L728.1 549.6 L728.6 549.0 L729.1 548.5 L729.6 550.0 L730.1 550.4 L730.6 550.7 L731.0 548.4 L731.5 550.6 L732.0 548.6 L732.5 547.6 L733.0 547.8 L733.5 542.8 L733.9 545.5 L734.4 546.3 L734.9 546.9 L735.4 549.0 L735.9 545.9 L736.4 548.0 L736.9 543.3 L737.4 543.5 L737.9 543.2 L738.4 545.0 L738.9 547.2 L739.4 544.4 L739.8 544.1 L740.3 546.2 L740.8 545.5 L741.3 545.4 L741.8 546.2 L742.3 544.2 L742.8 546.9 L743.3 547.4 L743.8 548.5 L744.3 546.6 L744.8 549.1 L745.3 547.3 L745.8 549.7 L746.3 551.1 L746.7 551.5 L747.2 551.3 L747.7 547.5 L748.2 549.0 L748.7 549.9 L749.2 550.1 L749.7 548.5 L750.2 551.7 L750.7 549.8 L751.2 551.4 L751.7 551.2 L752.2 549.5 L752.7 550.9 L753.2 548.0 L753.7 546.8 L754.2 547.7 L754.7 546.5 L755.3 549.7 L755.8 548.6 L756.3 546.5 L756.8 548.2 L757.3 547.5 L757.8 549.1 L758.3 550.7 L758.8 551.2 L759.3 549.9 L759.8 550.8 L760.3 552.3 L760.8 548.8 L761.3 551.8 L761.9 548.5 L762.4 552.6 L762.9 549.7 L763.3 549.6 L763.8 548.3 L764.2 547.3 L764.7 546.4 L765.1 543.4 L765.6 547.4 L766.1 546.2 L766.6 545.9 L767.1 548.0 L767.6 552.3 L768.0 551.8 L768.5 550.2 L769.0 550.0 L769.6 546.4 L770.1 548.9 L770.6 547.6 L771.1 548.9 L771.6 550.2 L772.1 553.1 L772.6 551.7 L773.2 552.6 L773.7 549.1 L774.2 548.4 L774.7 551.0 L775.2 549.8 L775.7 549.5 L776.3 547.8 L776.8 550.2 L777.3 547.0 L777.8 547.8 L778.3 548.7 L778.8 549.8 L779.3 551.0 L779.9 549.8 L780.4 552.1 L780.9 553.2 L781.4 553.7 L781.9 550.1 L782.4 548.4 L782.9 549.8 L783.5 549.4 L784.0 551.6 L784.5 553.6 L785.0 554.5 L785.5 551.0 L786.0 553.7 L786.5 553.8 L787.0 552.7 L787.5 549.4 L788.0 551.4 L788.5 546.6 L789.0 548.9 L789.5 549.2 L790.0 548.8 L790.5 548.4 L791.0 548.9 L791.5 551.1 L792.0 551.9 L792.5 553.0 L793.0 551.0 L793.5 552.4 L794.0 550.4 L794.5 547.7 L795.0 551.9 L795.5 548.7 L796.0 550.7 L796.5 547.5 L797.0 551.5 L797.5 554.5 L798.0 553.0 L798.6 553.1 L799.1 551.1 L799.6 549.9 L800.1 550.9 L800.6 550.6 L801.1 552.3 L801.6 551.9 L802.1 552.1 L802.6 550.9 L803.1 550.7 L803.6 546.3 L804.1 546.9 L804.7 548.2 L805.2 548.9 L805.7 551.8 L806.2 550.8 L806.7 553.3 L807.2 552.0 L807.7 551.4 L808.2 551.5 L808.7 550.5 L809.2 546.6 L809.7 550.2 L810.2 549.9 L810.7 548.0 L811.2 548.3 L811.7 551.4 L812.2 552.2 L812.7 552.5 L813.2 550.9 L813.7 554.5 L814.2 551.8 L814.7 554.8 L815.2 554.9 L815.7 551.5 L816.2 556.8 L816.7 555.8 L817.2 552.5 L817.7 554.9 L818.2 552.5 L818.7 550.1 L819.3 547.8 L819.8 551.9 L820.3 551.4 L820.8 553.4 L821.3 555.4 L821.8 555.7 L822.3 552.6 L822.8 556.2 L823.3 553.2 L823.8 553.6 L824.3 554.3 L824.8 552.3 L825.3 552.8 L825.8 553.0 L826.3 551.8 L826.8 552.0 L827.3 552.7 L827.8 548.6 L828.3 547.7 L828.8 550.2 L829.3 549.1 L829.8 548.2 L830.3 545.9 L830.8 550.7 L831.3 545.8 L831.9 546.6 L832.4 549.3 L832.9 547.3 L833.4 548.6 L833.9 545.2 L834.4 546.7 L834.9 548.1 L835.5 550.4 L836.0 548.2 L836.5 549.3 L837.0 548.9 L837.4 546.7 L837.9 544.3 L838.4 543.9 L838.9 542.5 L839.3 541.3 L839.8 540.2 L840.3 538.6 L840.7 535.5 L841.2 534.3 L841.7 535.6 L842.2 537.2 L842.6 540.2 L843.1 541.0 L843.6 544.6 L844.0 547.5 L844.5 544.2 L845.0 546.6 L845.5 545.5 L845.9 547.7 L846.4 548.6 L846.9 551.1 L847.4 553.8 L847.8 551.5 L848.3 554.5 L848.8 554.0 L849.2 554.9 L849.7 555.8 L850.2 553.3 L850.7 554.0 L851.1 553.2 L851.6 549.9 L852.1 552.1 L852.6 547.6 L853.1 547.6 L853.7 545.4 L854.2 545.4 L854.7 547.4 L855.2 547.3 L855.7 547.7 L856.2 548.6 L856.7 553.6 L857.3 549.3 L857.8 550.7 L858.3 551.4 L858.8 549.4 L859.3 551.0 L859.8 551.5 L860.4 554.2 L860.9 554.2 L861.4 551.6 L861.9 551.0 L862.4 549.2 L862.9 551.5 L863.4 551.7 L863.9 549.2 L864.4 550.3 L864.9 552.6 L865.4 549.2 L865.9 552.1 L866.5 551.5 L867.0 551.2 L867.5 550.1 L868.0 549.1 L868.5 552.5 L869.0 551.9 L869.5 552.4 L870.0 549.6 L870.5 550.7 L871.0 550.9 L871.5 547.4 L872.0 546.2 L872.5 548.4 L873.0 550.1 L873.5 549.4 L874.0 553.5 L874.5 553.2 L874.9 554.8 L875.4 555.3 L875.9 554.5 L876.4 551.8 L876.9 553.1 L877.4 550.9 L877.9 548.2 L878.4 551.3 L878.9 551.3 L879.4 549.9 L879.9 551.6 L880.4 550.9 L880.9 550.4 L881.4 553.0 L881.9 551.5 L882.4 550.9 L882.9 550.0 L883.4 548.8 L883.9 549.7 L884.4 548.3 L885.0 547.9 L885.5 547.4 L886.0 548.3 L886.5 549.7 L887.0 546.5 L887.5 550.3 L888.0 550.4 L888.5 551.2 L889.0 550.9 L889.5 550.4 L890.0 550.3 L890.6 548.6 L891.1 548.3 L891.6 551.1 L892.1 552.4 L892.6 552.0 L893.1 551.6 L893.6 552.1 L894.1 555.4 L894.6 552.5 L895.0 553.9 L895.5 551.0 L896.0 551.5 L896.4 550.7 L896.9 549.3 L897.4 552.3 L897.9 553.6 L898.5 552.1 L899.0 552.4 L899.5 551.1 L900.0 550.2 L900.5 552.9 L901.0 549.0 L901.5 552.1 L902.1 550.6 L902.6 550.3 L903.0 548.2 L903.5 552.0 L904.0 548.9 L904.5 551.2 L904.9 549.1 L905.4 552.6 L905.9 549.4 L906.3 550.0 L906.8 543.7 L907.3 534.7 L907.8 535.2 L908.4 537.9 L908.9 534.5 L909.4 533.5 L910.0 534.9 L910.5 531.8 L911.0 535.3 L911.5 534.0 L912.0 534.8 L912.4 536.5 L912.9 537.7 L913.4 538.0 L913.9 542.2 L914.4 541.6 L914.8 541.2 L915.4 543.6 L915.9 542.9 L916.4 543.8 L916.9 542.8 L917.5 545.3 L918.0 544.4 L918.5 545.0 L919.0 543.6 L919.6 543.4 L920.1 545.4 L920.6 545.4 L921.1 546.9 L921.6 545.4 L922.1 545.1 L922.7 547.3 L923.2 548.9 L923.7 551.5 L924.2 553.0 L924.7 553.6 L925.2 549.3 L925.7 554.0 L926.2 553.9 L926.6 553.6 L927.1 553.8 L927.6 550.3 L928.1 552.7 L928.5 553.6 L929.0 551.7 L929.5 554.4 L930.0 554.0 L930.5 554.0 L931.0 555.3 L931.5 551.0 L932.0 552.1 L932.5 553.3 L933.0 549.0 L933.5 549.9 L934.0 553.7 L934.5 554.6 L935.0 550.3 L935.6 549.1 L936.1 551.2 L936.6 551.3 L937.1 549.3 L937.6 549.1 L938.0 549.9 L938.5 551.2 L939.0 551.6 L939.5 548.5 L940.0 549.0 L940.5 552.2 L941.0 552.1 L941.5 550.7 L942.0 548.0 L942.5 547.2 L943.0 547.9 L943.5 547.2 L944.0 551.0 L944.5 549.5 L945.0 551.4 L945.5 551.7 L946.0 551.3 L946.5 551.6 L947.0 553.0 L947.5 552.0 L948.0 551.0 L948.5 553.1 L949.0 549.4 L949.5 548.5 L950.0 548.2 L950.5 550.4 L951.0 553.0 L951.5 552.4 L952.0 553.1 L952.5 554.3 L953.0 552.1 L953.5 552.7 L953.9 551.0 L954.4 552.9 L954.9 549.4 L955.4 550.9 L955.9 549.0 L956.4 549.9 L956.9 550.7 L957.5 553.1 L958.0 553.0 L958.5 553.3 L959.0 552.2 L959.5 550.1 L960.0 553.0 L960.5 550.8 L961.0 550.7 L961.5 551.4 L962.0 553.6 L962.5 550.8 L963.0 551.8 L963.5 550.8 L964.0 554.3 L964.5 555.7 L965.0 554.4 L965.5 553.3 L966.0 555.3 L966.5 554.6 L967.0 552.0 L967.5 553.9 L968.0 552.2 L968.5 551.9 L969.0 553.3 L969.5 554.0 L970.0 553.0 L970.5 551.4 L971.0 554.7 L971.5 551.7 L972.1 554.1 L972.6 554.0 L973.1 552.0 L973.6 553.6 L974.1 548.6 L974.6 547.0 L975.1 550.1 L975.6 551.6 L976.1 552.6 L976.6 551.2 L977.1 553.9 L977.6 550.8 L978.1 551.0 L978.6 553.3 L979.0 553.3 L979.5 549.2 L980.0 550.5 L980.5 546.9 L981.0 549.1 L981.5 549.9 L982.1 549.2 L982.6 549.6 L983.1 546.5 L983.6 545.1 L984.1 543.1 L984.6 543.5 L985.1 546.2 L985.7 546.8 L986.2 543.1 L986.7 544.2 L987.2 545.5 L987.7 544.8 L988.2 546.1 L988.8 545.3 L989.3 544.8 L989.8 546.2 L990.3 546.6 L990.8 547.3 L991.3 549.6 L991.8 548.7 L992.4 548.8 L992.9 551.5 L993.4 549.0 L993.9 549.8 L994.4 548.2 L994.9 548.2 L995.4 549.2 L996.0 549.3 L996.5 547.2 L997.0 546.8 L997.5 545.0 L998.0 546.1 L998.5 547.5 L999.0 546.8 L999.5 549.0 L1000.0 548.6 L1000.5 545.3 L1001.0 544.7 L1001.5 545.2 L1002.0 544.0 L1002.5 543.2 L1003.0 546.7 L1003.5 546.2 L1004.0 541.2 L1004.5 540.3 L1005.1 543.2 L1005.6 542.7 L1006.1 542.4 L1006.6 543.9 L1007.1 544.6 L1007.6 546.3 L1008.1 543.5 L1008.7 542.0 L1009.2 543.5 L1009.7 547.7 L1010.2 548.6 L1010.7 549.3 L1011.2 550.5 L1011.7 550.1 L1012.2 549.4 L1012.7 549.1 L1013.2 549.0 L1013.7 546.7 L1014.2 546.4 L1014.7 547.5 L1015.2 548.3 L1015.7 550.5 L1016.2 552.9 L1016.8 551.9 L1017.3 550.7 L1017.8 550.5 L1018.3 550.1 L1018.8 548.9 L1019.3 548.8 L1019.8 549.9 L1020.3 550.2 L1020.8 549.2 L1021.3 551.0 L1021.8 547.7 L1022.3 550.2 L1022.8 550.5 L1023.3 551.3 L1023.8 548.9 L1024.3 550.8 L1024.8 553.0 L1025.3 550.8 L1025.8 550.6 L1026.3 549.5 L1026.8 550.7 L1027.3 547.7 L1027.8 548.0 L1028.3 547.6 L1028.8 552.4 L1029.3 551.4 L1029.8 552.0 L1030.3 553.5 L1030.8 551.1 L1031.4 550.9 L1031.9 550.0 L1032.4 552.0 L1032.9 550.5 L1033.4 550.2 L1033.9 549.3 L1034.5 547.4 L1035.0 549.1 L1035.6 547.8 L1036.1 547.6 L1036.6 547.3 L1037.2 546.8 L1037.7 545.6 L1038.3 543.6 L1038.8 546.2 L1039.3 543.8 L1039.8 543.4 L1040.3 543.8 L1040.8 542.3 L1041.3 539.9 L1041.8 534.4 L1042.3 530.5 L1042.8 520.5 L1043.3 510.2 L1043.7 505.1 L1044.2 502.3 L1044.6 498.0 L1044.6 461.4 L1045.1 444.6 L1045.6 430.2 L1045.6 380.0 L1045.6 345.0 L1046.1 340.5 L1046.5 342.7 L1046.9 340.5 L1047.2 380.0 L1047.7 388.2 L1048.2 394.1 L1048.7 402.5 L1049.3 409.8 L1049.7 416.1 L1050.2 424.7 L1050.7 433.1 L1051.3 445.1 L1051.8 458.9 L1052.4 474.9 L1052.8 490.4 L1053.3 506.1 L1053.8 512.9 L1054.3 522.4 L1054.8 526.9 L1055.4 534.6 L1055.9 535.2 L1056.4 538.7 L1056.9 540.9 L1057.4 543.9 L1057.9 545.3 L1058.4 546.6 L1058.9 547.2 L1059.5 550.2 L1060.0 550.5 L1060.5 551.0 L1061.1 553.2 L1061.6 553.4 L1062.1 552.9 L1062.7 552.5 L1063.2 548.3 L1063.7 547.7 L1064.2 545.6 L1064.7 542.9 L1065.3 540.4 L1065.8 540.7 L1066.3 544.7 L1066.8 546.9 L1067.3 549.6 L1067.8 552.0 L1068.3 554.9 L1068.7 551.3 L1069.2 553.3 L1069.7 552.6 L1070.2 552.9 L1070.7 550.8 L1071.2 550.5 L1071.6 549.5 L1072.1 549.9 L1072.6 549.1 L1073.1 553.1 L1073.6 552.0 L1074.1 551.0 L1074.6 554.0 L1075.1 552.6 L1075.5 549.8 L1076.0 549.4 L1076.5 551.5 L1077.0 551.9 L1077.5 553.2 L1078.0 552.6 L1078.5 551.5 L1079.0 554.8 L1079.5 551.0 L1080.0 550.3 L1080.5 552.1 L1081.0 550.3 L1081.5 550.2 L1082.0 551.0 L1082.4 550.1 L1082.9 552.0 L1083.4 551.4 L1083.9 551.4 L1084.4 551.6 L1084.9 549.6 L1085.4 551.8 L1085.9 550.1 L1086.4 550.4 L1086.9 552.6 L1087.5 550.0 L1088.0 551.3 L1088.5 551.4 L1089.0 551.5 L1089.5 551.8 L1090.0 552.1 L1090.5 552.9 L1091.0 552.6 L1091.5 554.2 L1092.0 554.2 L1092.5 555.0 L1093.1 551.2 L1093.6 551.8 L1094.1 553.8 L1094.6 553.2 L1095.1 549.8 L1095.6 551.5 L1096.1 549.3 L1096.6 550.8 L1097.1 551.0 L1097.6 550.2 L1098.1 550.9 L1098.6 551.7 L1099.2 551.3 L1099.7 549.1 L1100.2 552.1 L1100.7 550.3 L1101.2 551.0 L1101.7 549.1 L1102.2 549.8 L1102.7 547.6 L1103.2 547.1 L1103.7 548.3 L1104.2 547.4 L1104.7 548.7 L1105.3 548.5 L1105.8 549.3 L1106.3 549.9 L1106.8 549.9 L1107.3 550.8 L1107.8 549.1 L1108.3 548.8 L1108.8 549.3 L1109.3 551.0 L1109.9 549.5 L1110.4 550.7 L1110.9 552.9 L1111.4 549.7 L1112.0 550.5 L1112.5 550.8 L1113.0 550.5 L1113.6 549.3 L1114.0 548.1 L1114.5 547.5 L1115.0 547.8 L1115.5 547.0 L1116.0 544.4 L1116.5 545.5 L1116.9 545.0 L1117.4 548.2 L1117.9 546.9 L1118.4 546.0 L1118.9 548.9 L1119.4 547.1 L1119.9 548.9 L1120.3 550.7 L1120.8 552.6 L1121.3 551.5 L1121.8 552.9 L1122.3 552.5 L1122.8 550.6 L1123.3 553.0 L1123.8 553.4 L1124.3 554.5 L1124.8 554.4 L1125.3 554.4 L1125.8 551.4 L1126.3 552.8 L1126.8 553.9 L1127.3 555.3 L1127.8 554.4 L1128.3 550.6 L1128.8 549.8 L1129.3 549.5 L1129.8 550.0 L1130.4 549.0 L1130.9 547.5 L1131.5 545.9 L1132.0 546.7 L1132.5 549.3 L1133.0 547.8 L1133.5 549.0 L1134.0 548.2 L1134.5 549.0 L1135.0 545.0 L1135.5 544.1 L1135.9 541.6 L1136.4 538.0 L1136.9 535.6 L1137.4 534.6 L1137.8 531.3 L1138.3 528.9 L1138.8 527.5 L1138.8 508.5 L1139.3 504.9 L1139.7 500.4 L1140.2 496.9 L1140.7 494.9 L1141.2 487.2 L1141.8 481.4 L1142.3 472.7 L1142.8 465.1 L1143.4 454.2 L1143.5 452.5 L1143.9 454.2 L1144.3 467.5 L1144.7 481.4 L1145.3 500.3 L1145.8 512.5 L1146.3 513.8 L1146.8 512.4 L1147.3 510.0 L1147.7 508.5 L1148.1 511.0 L1148.5 512.5 L1148.9 528.8 L1149.4 541.8 L1149.9 546.8 L1150.4 551.5 L1150.9 555.1 L1151.4 552.0 L1151.9 552.0 L1152.3 550.8 L1152.8 552.6 L1153.3 550.4 L1153.8 550.2 L1154.2 552.7 L1154.7 550.4 L1155.3 552.4 L1155.8 551.1 L1156.3 554.4 L1156.8 555.2 L1157.3 554.9 L1157.8 554.3 L1158.3 551.5 L1158.8 553.7 L1159.3 553.1 L1159.8 552.0 L1160.2 552.6 L1160.7 551.2 L1161.2 549.3 L1161.7 547.9 L1162.2 546.6 L1162.7 544.0 L1163.2 542.7 L1163.6 542.3 L1164.1 541.8 L1164.6 538.0 L1165.0 535.7 L1165.5 534.7 L1165.9 532.9 L1166.4 524.8 L1166.8 516.6 L1167.4 505.8 L1167.9 494.9 L1168.4 480.9 L1168.9 467.8 L1169.4 453.3 L1170.0 438.0 L1170.4 436.5 L1170.8 438.0 L1171.1 473.9 L1171.6 486.8 L1172.1 483.8 L1172.7 480.8 L1173.2 480.0 L1173.8 480.0 L1174.3 481.0 L1174.8 478.6 L1175.1 494.9 L1175.1 516.6 L1175.7 522.6 L1176.2 530.2 L1176.7 530.9 L1177.1 532.2 L1177.6 535.6 L1178.0 537.1 L1178.5 539.3 L1178.9 543.4 L1179.4 545.7 L1179.8 547.6 L1180.2 550.3 L1180.7 550.7 L1181.2 550.8 L1181.6 552.2 L1182.1 549.7 L1182.6 551.5 L1183.1 553.2 L1183.6 551.5 L1184.1 551.8 L1184.6 552.2 L1185.1 550.1 L1185.5 550.3 L1186.0 552.6 L1186.5 549.6 L1187.0 552.4 L1187.5 549.2 L1188.0 550.7 L1188.5 551.0 L1189.0 550.5 L1189.5 550.7 L1190.0 548.6 L1190.5 549.7 L1191.0 550.5 L1191.5 551.1 L1192.0 551.8 L1192.4 551.9 L1192.9 551.4 L1193.4 553.7 L1193.9 553.3 L1194.4 553.5 L1194.9 551.3 L1195.4 554.2 L1195.9 549.1 L1196.4 549.8 L1196.9 546.3 L1197.3 547.0 L1197.8 547.5 L1198.3 547.9 L1198.7 544.2 L1199.2 543.1 L1199.6 541.6 L1200.1 539.9 L1200.6 543.8 L1201.2 546.4 L1201.7 549.3 L1202.2 551.2 L1202.7 552.1 L1203.2 551.7 L1203.7 550.7 L1204.2 553.2 L1204.7 552.1 L1205.1 550.3 L1205.6 551.3 L1206.1 550.0 L1206.6 549.9 L1207.1 551.8 L1207.6 552.5 L1208.1 551.2 L1208.6 552.6 L1209.1 549.9 L1209.6 551.1 L1210.1 548.1 L1210.6 549.2 L1211.1 551.6 L1211.6 552.4 L1212.0 553.8 L1212.5 550.7 L1213.0 550.8 L1213.5 549.5 L1214.0 549.0 L1214.5 549.8 L1215.0 548.2 L1215.5 550.0 L1216.0 551.4 L1216.5 549.9 L1217.0 551.0 L1217.5 553.6 L1218.0 549.3 L1218.4 552.8 L1218.9 549.0 L1219.3 547.5 L1219.8 548.6 L1220.3 546.8 L1220.8 547.5 L1221.3 551.0 L1221.8 551.6 L1222.3 550.6 L1222.9 552.2 L1223.4 553.8 L1223.9 551.9 L1224.4 555.7 L1224.9 556.6 L1225.4 553.2 L1225.9 554.1 L1226.4 555.1 L1226.9 554.2 L1227.5 552.0 L1228.0 553.9 L1228.5 551.3 L1229.0 552.1 L1229.5 551.2 L1230.0 551.2 L1230.5 552.1 L1231.0 550.7 L1231.5 551.4 L1232.0 554.2 L1232.5 552.6 L1233.0 552.8 L1233.5 553.2 L1234.0 553.4 L1234.5 550.3 L1235.0 552.2 L1235.6 550.0 L1236.1 550.5 L1236.6 550.6 L1237.1 552.6 L1237.6 553.9 L1238.1 554.0 L1238.7 554.1 L1239.2 553.0 L1239.7 553.4 L1240.2 554.5 L1240.7 552.4 L1241.2 555.1 L1241.7 555.3 L1242.2 553.0 L1242.7 553.6 L1243.2 552.3 L1243.7 553.3 L1244.2 550.0 L1244.7 552.2 L1245.2 550.5 L1245.7 554.2 L1246.2 552.1 L1246.7 553.4 L1247.2 552.3 L1247.7 549.3 L1248.2 548.0 L1248.7 549.2 L1249.2 551.9 L1249.7 550.7 L1250.2 552.0 L1250.7 549.8 L1251.2 550.8 L1251.7 551.3 L1252.2 554.2 L1252.8 551.3 L1253.3 550.7 L1253.8 552.9 L1254.3 550.2 L1254.8 549.9 L1255.3 548.1 L1255.8 548.3 L1256.3 547.6 L1256.8 548.6 L1257.4 547.8 L1257.9 547.7 L1258.4 546.4 L1258.9 545.8 L1259.4 544.4 L1259.9 546.7 L1260.4 548.1 L1260.8 550.6 L1261.3 553.3 L1261.8 552.0 L1262.3 550.5 L1262.9 549.5 L1263.4 552.0 L1263.9 550.7 L1264.4 551.2 L1265.0 550.7 L1265.5 553.2 L1266.0 553.3 L1266.5 553.3 L1267.0 554.0 L1267.6 552.2 L1268.1 553.5 L1268.6 552.2 L1269.1 551.2 L1269.6 550.7 L1270.1 550.7 L1270.6 550.1 L1271.1 550.0 L1271.6 551.0 L1272.1 553.0 L1272.6 554.4 L1273.1 552.7 L1273.6 551.7 L1274.1 552.5 L1274.6 551.3 L1275.1 552.5 L1275.6 555.0 L1276.1 555.0 L1276.6 554.4 L1277.1 554.4 L1277.6 557.1 L1278.1 557.1 L1278.6 556.6 L1279.1 556.7 L1279.6 557.0 L1280.1 555.9 L1280.6 555.7 L1281.1 555.5 L1281.6 556.0 L1282.2 555.7 L1282.7 553.8 L1283.2 555.7 L1283.7 556.0 L1284.2 553.7 L1284.7 554.0 L1285.2 555.7 L1285.7 553.2 L1286.3 552.1 L1286.8 551.2 L1287.3 553.2 L1287.8 551.9 L1288.3 552.9 L1288.8 553.6 L1289.3 550.0 L1289.9 553.4 L1290.4 550.1 L1290.9 551.3 L1291.4 552.9 L1291.9 554.6 L1292.4 552.4 L1293.0 553.8 L1293.5 555.0 L1294.0 550.5 L1294.5 551.9 L1294.9 552.4 L1295.4 551.0 L1295.9 550.4 L1296.3 549.4 L1296.8 551.0 L1297.3 553.1 L1297.8 553.0 L1298.3 552.8 L1298.8 551.2 L1299.3 552.1 L1299.7 552.5 L1300.2 551.8 L1300.7 552.8 L1301.2 553.1 L1301.7 550.9 L1302.2 551.7 L1302.7 553.5 L1303.2 552.0 L1303.7 551.5 L1304.2 554.1 L1304.7 552.6 L1305.2 555.0 L1305.7 553.3 L1306.2 551.3 L1306.7 553.1 L1307.2 554.3 L1307.7 551.9 L1308.2 554.5 L1308.7 554.7 L1309.2 555.3 L1309.7 553.0 L1310.2 553.2 L1310.7 556.3 L1311.2 553.9 L1311.7 553.6 L1312.2 552.4 L1312.7 552.4 L1313.2 553.5 L1313.7 555.7 L1314.2 553.7 L1314.7 553.9 L1315.1 555.7 L1315.6 552.8 L1316.1 553.9 L1316.6 552.4 L1317.1 552.6 L1317.6 553.2 L1318.1 549.2 L1318.6 550.6 L1319.1 550.9 L1319.6 553.6 L1320.1 552.4 L1320.6 555.0 L1321.1 553.2 L1321.6 554.6 L1322.1 556.5 L1322.6 553.5 L1323.1 552.7 L1323.6 554.1 L1324.1 552.2 L1324.6 549.2 L1325.1 549.2 L1325.6 549.0 L1326.1 552.5 L1326.6 549.3 L1327.1 552.2 L1327.6 552.5 L1328.1 554.4 L1328.6 553.3 L1329.1 553.2 L1329.6 552.3 L1330.1 553.6 L1330.6 552.8 L1331.0 551.3 L1331.5 552.9 L1332.0 552.7 L1332.5 554.0 L1333.0 552.8 L1333.5 553.4 L1334.0 557.1 L1334.5 554.3 L1335.0 553.6 L1335.5 552.6 L1336.0 552.4 L1336.5 554.3 L1337.0 555.7 L1337.5 553.2 L1338.0 553.4 L1338.5 552.1 L1339.0 551.8 L1339.5 550.0 L1340.1 549.6 L1340.6 550.2 L1341.1 553.0 L1341.6 551.3 L1342.1 554.6 L1342.6 551.9 L1343.1 552.4 L1343.6 552.5 L1344.1 552.5 L1344.6 552.8 L1345.1 550.9 L1345.6 551.3 L1346.2 551.5 L1346.7 551.5 L1347.2 549.3 L1347.7 553.5 L1348.2 552.3 L1348.7 554.0 L1349.2 554.3 L1349.8 554.0 L1350.3 554.1 L1350.8 557.4 L1351.3 554.4 L1351.8 551.7 L1352.3 550.1 L1352.9 551.8 L1353.4 551.7 L1353.9 553.7 L1354.4 552.7 L1354.9 551.5 L1355.4 551.0 L1355.9 550.8 L1356.4 549.7 L1356.9 549.7 L1357.4 551.1 L1357.9 553.8 L1358.4 553.1 L1358.9 553.2 L1359.4 554.4 L1359.9 553.7 L1360.4 552.7 L1360.9 553.6 L1361.4 552.7 L1362.0 553.1 L1362.5 551.0 L1363.0 551.1 L1363.5 549.3 L1364.0 551.3 L1364.5 550.1 L1365.0 551.5 L1365.5 551.1 L1366.0 555.2 L1366.5 553.8 L1367.0 552.6 L1367.5 552.6 L1368.0 553.6 L1368.5 550.8 L1369.0 552.1 L1369.5 551.4 L1370.0 553.7 L1370.5 551.8 L1371.0 552.3 L1371.5 552.4 L1372.0 548.7 L1372.5 549.4 L1373.0 549.3 L1373.5 550.8 L1374.0 551.6 L1374.5 552.3 L1375.0 554.1 L1375.5 552.4 L1376.0 552.8 L1376.6 553.9 L1377.1 550.5 L1377.6 552.1 L1378.1 548.8 L1378.6 551.3 L1379.1 549.6 L1379.6 549.5 L1380.1 547.2 L1380.6 547.7 L1381.1 548.6 L1381.6 548.1 L1382.1 546.8 L1382.6 547.8 L1383.2 548.0 L1383.7 544.3 L1384.2 547.7 L1384.7 547.8 L1385.2 549.8 L1385.8 547.9 L1386.3 550.1 L1386.8 551.8 L1387.3 550.6 L1387.9 552.9 L1388.4 551.4 L1388.9 549.3 L1389.4 552.3 L1389.9 551.9 L1390.4 552.9 L1391.0 554.5 L1391.5 552.8 L1392.0 553.6 L1392.5 555.0 L1393.0 555.7 L1393.5 553.4 L1394.0 552.8 L1394.6 554.7 L1395.1 555.9 L1395.6 554.0 L1396.1 556.4 L1396.6 554.0 L1397.1 555.4 L1397.6 554.7 L1398.1 553.5 L1398.6 553.7 L1399.1 553.8 L1399.6 555.2 L1400.1 555.1 L1400.6 558.0 L1401.1 556.8 L1401.6 553.7 L1402.1 555.0 L1402.6 557.0 L1403.1 554.7 L1403.6 555.1 L1404.1 555.4 L1404.6 555.7 L1405.1 555.8 L1405.6 553.7 L1406.1 553.2 L1406.6 553.8 L1407.1 553.8 L1407.6 555.7 L1408.1 555.0 L1408.6 555.9 L1409.1 554.1 L1409.5 556.6 L1410.0 557.1 L1410.5 553.6 L1411.0 553.7 L1411.5 553.9 L1412.0 552.0 L1412.5 551.6 L1413.0 553.0 L1413.5 552.2 L1414.0 553.9 L1414.5 552.9 L1415.0 552.9 L1415.5 553.6 L1416.0 551.2 L1416.5 552.4 L1417.0 553.3 L1417.5 555.8 L1418.0 557.6 L1418.5 557.6 L1419.0 557.5 L1419.5 558.6 L1420.0 555.8 L1420.5 554.6 L1421.0 552.8 L1421.5 554.1 L1422.0 551.5 L1422.5 551.9 L1423.0 550.8 L1423.5 551.2 L1424.0 550.9 L1424.5 552.7 L1424.9 551.3 L1425.4 553.4 L1425.9 554.6 L1426.4 553.2 L1426.9 552.7 L1427.4 554.5 L1427.9 554.5 L1428.4 554.9 L1428.9 553.7 L1429.4 555.0 L1429.9 554.6 L1430.4 558.3 L1430.9 557.6 L1431.4 557.2 L1431.9 553.0 L1432.4 553.3 L1432.9 552.4 L1433.4 552.2 L1433.9 550.8 L1434.4 553.0 L1434.9 552.0 L1435.4 552.9 L1435.9 552.2 L1436.4 551.9 L1436.9 551.0 L1437.4 552.2 L1437.9 554.8 L1438.4 555.9 L1438.9 557.3 L1439.4 554.2 L1439.9 557.0 L1440.4 555.0 L1440.8 554.6 L1441.3 553.9 L1441.8 554.0 L1442.3 551.9 L1442.8 553.7 L1443.3 551.9 L1443.8 551.5 L1444.3 552.2 L1444.8 552.5 L1445.3 555.6 L1445.8 552.7 L1446.3 554.4 L1446.8 553.4 L1447.3 555.9 L1447.8 554.2 L1448.3 554.8 L1448.8 555.1 L1449.3 556.9 L1449.8 557.7 L1450.3 556.8 L1450.8 554.1 L1451.3 552.0 L1451.8 551.4 L1452.3 553.4 L1452.8 550.9 L1453.3 550.3 L1453.8 553.6 L1454.3 552.2 L1454.8 551.0 L1455.3 551.1 L1455.8 553.9 L1456.3 553.4 L1456.7 550.9 L1457.2 553.2 L1457.7 551.4 L1458.2 554.2 L1458.7 552.3 L1459.2 552.9 L1459.7 551.6 L1460.3 555.7 L1460.8 554.2 L1461.3 553.9 L1461.8 556.0 L1462.3 553.3 L1462.8 552.7 L1463.3 554.5 L1463.8 553.2 L1464.3 554.1 L1464.8 553.0 L1465.3 550.5 L1465.8 553.4 L1466.3 549.0 L1466.7 547.5 L1467.2 544.7 L1467.7 543.1 L1468.2 540.5 L1468.7 542.7 L1469.2 539.6 L1469.7 540.7 L1470.2 538.1 L1470.7 541.1 L1471.2 541.9 L1471.7 541.3 L1472.2 540.9 L1472.7 542.4 L1473.2 542.0 L1473.7 540.6 L1474.2 536.7 L1474.7 538.1 L1475.2 538.8 L1475.7 539.4 L1476.2 541.7 L1476.6 544.0 L1477.1 545.4 L1477.6 545.8 L1478.1 547.9 L1478.5 548.7 L1479.0 549.5 L1479.5 549.2 L1480.0 551.1 L1480.6 551.1 L1481.1 549.4 L1481.6 549.7 L1482.1 551.0 L1482.6 552.5 L1483.1 553.0 L1483.6 553.1 L1484.2 554.0 L1484.7 553.3 L1485.2 554.7 L1485.7 557.2 L1486.2 555.3 L1486.7 554.9 L1487.2 553.0 L1487.7 552.0 L1488.2 551.7 L1488.7 555.1 L1489.2 554.1 L1489.7 552.8 L1490.2 555.7 L1490.7 556.0 L1491.2 556.8 L1491.7 557.5 L1492.2 553.9 L1492.7 555.3 L1493.2 555.6 L1493.7 555.4 L1494.2 552.9 L1494.7 553.4 L1495.2 552.0 L1495.7 551.8 L1496.2 551.4 L1496.7 552.2 L1497.1 550.9 L1497.6 552.2 L1498.1 555.6 L1498.6 557.0 L1499.1 558.0 L1499.6 558.4 L1500.1 556.5 L1500.6 557.2 L1501.1 555.5 L1501.6 555.1 L1502.1 553.6 L1502.6 555.6 L1503.1 555.7 L1503.5 554.8 L1504.0 553.8 L1504.5 554.3 L1505.0 553.4 L1505.5 553.5 L1506.0 555.3 L1506.5 556.2 L1507.0 552.8 L1507.5 553.0 L1508.0 554.5 L1508.5 552.1 L1509.0 555.2 L1509.5 554.4 L1510.0 556.1 L1510.4 556.2 L1510.9 556.1 L1511.4 556.1 L1511.9 554.9 L1512.4 556.0 L1512.9 552.6 L1513.4 554.2 L1513.9 554.1 L1514.4 551.6 L1514.9 554.0 L1515.4 550.3 L1515.9 549.6 L1516.4 549.4 L1516.9 552.9 L1517.4 552.9 L1517.9 551.5 L1518.4 553.4 L1518.9 553.7 L1519.3 552.5 L1519.8 551.2 L1520.3 553.1 L1520.8 553.6 L1521.3 556.6 L1521.8 555.0 L1522.3 557.0 L1522.8 556.7 L1523.3 555.4 L1523.8 553.6 L1524.3 553.6 L1524.8 555.8 L1525.3 553.0 L1525.8 554.4 L1526.3 552.0 L1526.8 551.3 L1527.3 551.8 L1527.8 550.5 L1528.3 553.7 L1528.8 552.2 L1529.4 553.4 L1529.9 553.9 L1530.4 553.5 L1530.9 553.4 L1531.4 553.1 L1531.9 554.4 L1532.4 553.8 L1532.9 553.1 L1533.4 551.0 L1533.9 553.2 L1534.4 553.6 L1535.0 554.7 L1535.5 555.4 L1536.0 554.4 L1536.5 553.0 L1537.0 553.0 L1537.5 551.4 L1538.0 553.4 L1538.6 551.2 L1539.1 551.9 L1539.6 552.4 L1540.1 553.8 L1540.6 557.6 L1541.1 555.2 L1541.7 554.7 L1542.2 553.8 L1542.7 553.2 L1543.2 554.5 L1543.7 552.9 L1544.2 555.2 L1544.7 553.8 L1545.3 555.0 L1545.8 554.0 L1546.3 550.3 L1546.8 552.3 L1547.3 551.6 L1547.8 555.6 L1548.3 553.5 L1548.9 553.6 L1549.3 552.4 L1549.8 553.0 L1550.3 551.2 L1550.8 552.4 L1551.3 552.9 L1551.8 554.7 L1552.3 554.1" fill="none" stroke="#ff4040" stroke-width="5" stroke-linejoin="round" stroke-linecap="round"/>
<rect x="811.5" y="471.5" width="66.0" height="622.5" rx="4" ry="4" fill="none" stroke="#00ff00" stroke-width="5"/>
<rect x="970.5" y="471.5" width="66.0" height="622.5" rx="4" ry="4" fill="none" stroke="#00ff00" stroke-width="5"/>
<g fill="#000">
<circle cx="442.1" cy="73.1" r="22.6"/>
<circle cx="342.0" cy="232.5" r="22.6"/>
<circle cx="701.6" cy="286.5" r="22.6"/>
<circle cx="1052.1" cy="316.4" r="22.6"/>
<circle cx="1141.6" cy="430.4" r="22.6"/>
<circle cx="1179.5" cy="413.5" r="22.6"/>
<circle cx="396.3" cy="624.0" r="22.6"/>
<circle cx="912.6" cy="899.3" r="22.6"/>
<circle cx="1474.1" cy="985.9" r="21.2"/>
<circle cx="1084.0" cy="84.0" r="22.6"/>
<rect x="231.0" y="411.2" width="45.3" height="45.3"/>
<rect x="252.0" y="320.1" width="45.3" height="45.3"/>
<rect x="294.3" y="302.2" width="45.3" height="45.3"/>
<rect x="446.2" y="455.0" width="45.3" height="45.3"/>
<rect x="571.4" y="486.9" width="45.3" height="45.3"/>
<rect x="330.3" y="702.0" width="45.3" height="45.3"/>
<rect x="1061.4" y="139.1" width="45.3" height="45.3"/>
<polygon points="366.3,462.1 409.4,462.1 387.9,505.0"/>
<polygon points="821.0,482.1 864.0,482.1 842.5,525.4"/>
<polygon points="984.2,487.2 1027.6,487.2 1005.9,530.0"/>
<polygon points="1065.2,236.7 1109.2,236.7 1087.2,279.1"/>
</g>
<defs><filter id="bw" filterUnits="userSpaceOnUse" x="0" y="0" width="1589" height="1327" color-interpolation-filters="sRGB"><feComponentTransfer><feFuncA type="discrete" tableValues="0 0 1 1 1"/></feComponentTransfer></filter></defs>
<g filter="url(#bw)">
<text x="1126" y="105.8" font-size="56" letter-spacing="0.2"><tspan font-style="italic">α</tspan>-Mg</text>
<text x="1126.5" y="184.2" font-size="56" letter-spacing="0.29">Mg<tspan dy="16.5" stroke="#000" stroke-width="0.9">12</tspan><tspan dy="-16.5">(Gd,Y)Zn</tspan></text>
<text x="1133" y="279.1" font-size="56" letter-spacing="0.48">Mg<tspan dy="16.7" stroke="#000" stroke-width="0.9">5</tspan><tspan dy="-16.7">(Gd,Y,Zn)</tspan></text>
<text x="1341.2" y="495.5" font-size="56" letter-spacing="0.6">As-cast</text>
<text x="1132.3" y="716" font-size="56" letter-spacing="0.7">As-homogenized</text>
<text x="260.9" y="1216.3" font-size="56" letter-spacing="1.6">30</text>
<text x="490.4" y="1216.3" font-size="56" letter-spacing="1.6">40</text>
<text x="719.9" y="1216.3" font-size="56" letter-spacing="1.6">50</text>
<text x="949.4" y="1216.3" font-size="56" letter-spacing="1.6">60</text>
<text x="1179.0" y="1216.3" font-size="56" letter-spacing="1.6">70</text>
<text x="1408.5" y="1216.3" font-size="56" letter-spacing="1.6">80</text>
<text x="699.3" y="1295.9" font-size="68" letter-spacing="0.4">2θ (degree)</text>
<text transform="translate(82,784) rotate(-90)" font-size="68" letter-spacing="0.25">Intensity (a.u.)</text>
</g>
</svg></body></html>
